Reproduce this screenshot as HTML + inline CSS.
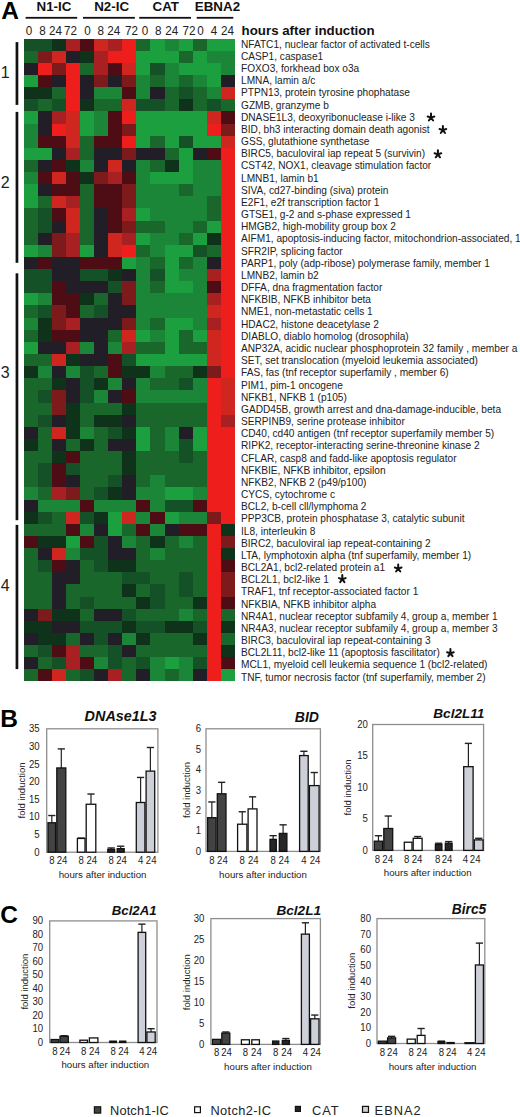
<!DOCTYPE html>
<html><head><meta charset="utf-8"><title>Figure</title>
<style>
html,body{margin:0;padding:0;background:#fff;}
body{width:520px;height:1117px;position:relative;overflow:hidden;font-family:"Liberation Sans", sans-serif;}
</style></head><body>
<svg width="520" height="1117" viewBox="0 0 520 1117" style="position:absolute;left:0;top:0;font-family:'Liberation Sans', sans-serif">
<text x="1.2" y="18.9" font-size="24.5" font-weight="bold" fill="#000">A</text>
<text transform="translate(36.5,10.5) scale(1.07,1)" font-size="12.5" font-weight="bold" fill="#111">N1-IC</text>
<rect x="25.6" y="16.9" width="51.6" height="1.8" fill="#111"/>
<text transform="translate(94.2,10.5) scale(1.07,1)" font-size="12.5" font-weight="bold" fill="#111">N2-IC</text>
<rect x="83.0" y="16.9" width="51.9" height="1.8" fill="#111"/>
<text transform="translate(152.5,10.5) scale(1.07,1)" font-size="12.5" font-weight="bold" fill="#111">CAT</text>
<rect x="139.2" y="16.9" width="51.8" height="1.8" fill="#111"/>
<text transform="translate(194.8,10.5) scale(1.07,1)" font-size="12.5" font-weight="bold" fill="#111">EBNA2</text>
<rect x="196.7" y="16.9" width="36.6" height="1.8" fill="#111"/>
<text transform="translate(29.0,34.9) scale(1,1.09)" font-size="11.7" text-anchor="middle" fill="#222">0</text>
<text transform="translate(42.4,34.9) scale(1,1.09)" font-size="11.7" text-anchor="middle" fill="#222">8</text>
<text transform="translate(55.4,34.9) scale(1,1.09)" font-size="11.7" text-anchor="middle" fill="#222">24</text>
<text transform="translate(70.5,34.9) scale(1,1.09)" font-size="11.7" text-anchor="middle" fill="#222">72</text>
<text transform="translate(87.5,34.9) scale(1,1.09)" font-size="11.7" text-anchor="middle" fill="#222">0</text>
<text transform="translate(100.7,34.9) scale(1,1.09)" font-size="11.7" text-anchor="middle" fill="#222">8</text>
<text transform="translate(113.7,34.9) scale(1,1.09)" font-size="11.7" text-anchor="middle" fill="#222">24</text>
<text transform="translate(131.6,34.9) scale(1,1.09)" font-size="11.7" text-anchor="middle" fill="#222">72</text>
<text transform="translate(144.9,34.9) scale(1,1.09)" font-size="11.7" text-anchor="middle" fill="#222">0</text>
<text transform="translate(158.2,34.9) scale(1,1.09)" font-size="11.7" text-anchor="middle" fill="#222">8</text>
<text transform="translate(171.8,34.9) scale(1,1.09)" font-size="11.7" text-anchor="middle" fill="#222">24</text>
<text transform="translate(189.0,34.9) scale(1,1.09)" font-size="11.7" text-anchor="middle" fill="#222">72</text>
<text transform="translate(200.4,34.9) scale(1,1.09)" font-size="11.7" text-anchor="middle" fill="#222">0</text>
<text transform="translate(214.0,34.9) scale(1,1.09)" font-size="11.7" text-anchor="middle" fill="#222">4</text>
<text transform="translate(227.5,34.9) scale(1,1.09)" font-size="11.7" text-anchor="middle" fill="#222">24</text>
<text x="241.6" y="35.4" font-size="13.3" font-weight="bold" fill="#111">hours after induction</text>
<g shape-rendering="crispEdges">
<rect x="23.50" y="38.60" width="14.70" height="12.73" fill="#155126"/>
<rect x="37.60" y="38.60" width="14.70" height="12.73" fill="#155126"/>
<rect x="51.70" y="38.60" width="14.70" height="12.73" fill="#0e331a"/>
<rect x="65.80" y="38.60" width="14.70" height="12.73" fill="#a82022"/>
<rect x="79.90" y="38.60" width="14.70" height="12.73" fill="#4e0d14"/>
<rect x="94.00" y="38.60" width="14.70" height="12.73" fill="#cf2620"/>
<rect x="108.10" y="38.60" width="14.70" height="12.73" fill="#a82022"/>
<rect x="122.20" y="38.60" width="14.70" height="12.73" fill="#ee1e1c"/>
<rect x="136.30" y="38.60" width="14.70" height="12.73" fill="#1a672b"/>
<rect x="150.40" y="38.60" width="14.70" height="12.73" fill="#1c9f3e"/>
<rect x="164.50" y="38.60" width="14.70" height="12.73" fill="#1b8637"/>
<rect x="178.60" y="38.60" width="14.70" height="12.73" fill="#1c9f3e"/>
<rect x="192.70" y="38.60" width="14.70" height="12.73" fill="#1a672b"/>
<rect x="206.80" y="38.60" width="14.70" height="12.73" fill="#1c9f3e"/>
<rect x="220.90" y="38.60" width="14.10" height="12.73" fill="#1c9f3e"/>
<rect x="23.50" y="50.73" width="14.70" height="12.73" fill="#1a672b"/>
<rect x="37.60" y="50.73" width="14.70" height="12.73" fill="#7c1a1c"/>
<rect x="51.70" y="50.73" width="14.70" height="12.73" fill="#cf2620"/>
<rect x="65.80" y="50.73" width="14.70" height="12.73" fill="#221e27"/>
<rect x="79.90" y="50.73" width="14.70" height="12.73" fill="#0e331a"/>
<rect x="94.00" y="50.73" width="14.70" height="12.73" fill="#a82022"/>
<rect x="108.10" y="50.73" width="14.70" height="12.73" fill="#ee1e1c"/>
<rect x="122.20" y="50.73" width="14.70" height="12.73" fill="#ee1e1c"/>
<rect x="136.30" y="50.73" width="14.70" height="12.73" fill="#1c9f3e"/>
<rect x="150.40" y="50.73" width="14.70" height="12.73" fill="#1c9f3e"/>
<rect x="164.50" y="50.73" width="14.70" height="12.73" fill="#1c9f3e"/>
<rect x="178.60" y="50.73" width="14.70" height="12.73" fill="#1a672b"/>
<rect x="192.70" y="50.73" width="14.70" height="12.73" fill="#1c9f3e"/>
<rect x="206.80" y="50.73" width="14.70" height="12.73" fill="#1b8637"/>
<rect x="220.90" y="50.73" width="14.10" height="12.73" fill="#1b8637"/>
<rect x="23.50" y="62.86" width="14.70" height="12.73" fill="#221e27"/>
<rect x="37.60" y="62.86" width="14.70" height="12.73" fill="#ee1e1c"/>
<rect x="51.70" y="62.86" width="14.70" height="12.73" fill="#7c1a1c"/>
<rect x="65.80" y="62.86" width="14.70" height="12.73" fill="#ee1e1c"/>
<rect x="79.90" y="62.86" width="14.70" height="12.73" fill="#1a672b"/>
<rect x="94.00" y="62.86" width="14.70" height="12.73" fill="#a82022"/>
<rect x="108.10" y="62.86" width="14.70" height="12.73" fill="#4e0d14"/>
<rect x="122.20" y="62.86" width="14.70" height="12.73" fill="#cf2620"/>
<rect x="136.30" y="62.86" width="14.70" height="12.73" fill="#1c9f3e"/>
<rect x="150.40" y="62.86" width="14.70" height="12.73" fill="#155126"/>
<rect x="164.50" y="62.86" width="14.70" height="12.73" fill="#1b8637"/>
<rect x="178.60" y="62.86" width="14.70" height="12.73" fill="#1c9f3e"/>
<rect x="192.70" y="62.86" width="14.70" height="12.73" fill="#1c9f3e"/>
<rect x="206.80" y="62.86" width="14.70" height="12.73" fill="#1c9f3e"/>
<rect x="220.90" y="62.86" width="14.10" height="12.73" fill="#1b8637"/>
<rect x="23.50" y="74.99" width="14.70" height="12.73" fill="#1c9f3e"/>
<rect x="37.60" y="74.99" width="14.70" height="12.73" fill="#4e0d14"/>
<rect x="51.70" y="74.99" width="14.70" height="12.73" fill="#221e27"/>
<rect x="65.80" y="74.99" width="14.70" height="12.73" fill="#ee1e1c"/>
<rect x="79.90" y="74.99" width="14.70" height="12.73" fill="#221e27"/>
<rect x="94.00" y="74.99" width="14.70" height="12.73" fill="#7c1a1c"/>
<rect x="108.10" y="74.99" width="14.70" height="12.73" fill="#221e27"/>
<rect x="122.20" y="74.99" width="14.70" height="12.73" fill="#7c1a1c"/>
<rect x="136.30" y="74.99" width="14.70" height="12.73" fill="#1b8637"/>
<rect x="150.40" y="74.99" width="14.70" height="12.73" fill="#1a672b"/>
<rect x="164.50" y="74.99" width="14.70" height="12.73" fill="#1b8637"/>
<rect x="178.60" y="74.99" width="14.70" height="12.73" fill="#1a672b"/>
<rect x="192.70" y="74.99" width="14.70" height="12.73" fill="#1b8637"/>
<rect x="206.80" y="74.99" width="14.70" height="12.73" fill="#1c9f3e"/>
<rect x="220.90" y="74.99" width="14.10" height="12.73" fill="#221e27"/>
<rect x="23.50" y="87.12" width="14.70" height="12.73" fill="#0e331a"/>
<rect x="37.60" y="87.12" width="14.70" height="12.73" fill="#0e331a"/>
<rect x="51.70" y="87.12" width="14.70" height="12.73" fill="#1a672b"/>
<rect x="65.80" y="87.12" width="14.70" height="12.73" fill="#ee1e1c"/>
<rect x="79.90" y="87.12" width="14.70" height="12.73" fill="#221e27"/>
<rect x="94.00" y="87.12" width="14.70" height="12.73" fill="#1b8637"/>
<rect x="108.10" y="87.12" width="14.70" height="12.73" fill="#1b8637"/>
<rect x="122.20" y="87.12" width="14.70" height="12.73" fill="#4e0d14"/>
<rect x="136.30" y="87.12" width="14.70" height="12.73" fill="#1b8637"/>
<rect x="150.40" y="87.12" width="14.70" height="12.73" fill="#221e27"/>
<rect x="164.50" y="87.12" width="14.70" height="12.73" fill="#1a672b"/>
<rect x="178.60" y="87.12" width="14.70" height="12.73" fill="#155126"/>
<rect x="192.70" y="87.12" width="14.70" height="12.73" fill="#1a672b"/>
<rect x="206.80" y="87.12" width="14.70" height="12.73" fill="#1b8637"/>
<rect x="220.90" y="87.12" width="14.10" height="12.73" fill="#cf2620"/>
<rect x="23.50" y="99.25" width="14.70" height="12.73" fill="#155126"/>
<rect x="37.60" y="99.25" width="14.70" height="12.73" fill="#1a672b"/>
<rect x="51.70" y="99.25" width="14.70" height="12.73" fill="#155126"/>
<rect x="65.80" y="99.25" width="14.70" height="12.73" fill="#ee1e1c"/>
<rect x="79.90" y="99.25" width="14.70" height="12.73" fill="#0e331a"/>
<rect x="94.00" y="99.25" width="14.70" height="12.73" fill="#1a672b"/>
<rect x="108.10" y="99.25" width="14.70" height="12.73" fill="#1a672b"/>
<rect x="122.20" y="99.25" width="14.70" height="12.73" fill="#cf2620"/>
<rect x="136.30" y="99.25" width="14.70" height="12.73" fill="#155126"/>
<rect x="150.40" y="99.25" width="14.70" height="12.73" fill="#155126"/>
<rect x="164.50" y="99.25" width="14.70" height="12.73" fill="#1a672b"/>
<rect x="178.60" y="99.25" width="14.70" height="12.73" fill="#0e331a"/>
<rect x="192.70" y="99.25" width="14.70" height="12.73" fill="#1a672b"/>
<rect x="206.80" y="99.25" width="14.70" height="12.73" fill="#155126"/>
<rect x="220.90" y="99.25" width="14.10" height="12.73" fill="#1a672b"/>
<rect x="23.50" y="111.38" width="14.70" height="12.73" fill="#1c9f3e"/>
<rect x="37.60" y="111.38" width="14.70" height="12.73" fill="#221e27"/>
<rect x="51.70" y="111.38" width="14.70" height="12.73" fill="#a82022"/>
<rect x="65.80" y="111.38" width="14.70" height="12.73" fill="#cf2620"/>
<rect x="79.90" y="111.38" width="14.70" height="12.73" fill="#1c9f3e"/>
<rect x="94.00" y="111.38" width="14.70" height="12.73" fill="#1b8637"/>
<rect x="108.10" y="111.38" width="14.70" height="12.73" fill="#4e0d14"/>
<rect x="122.20" y="111.38" width="14.70" height="12.73" fill="#ee1e1c"/>
<rect x="136.30" y="111.38" width="14.70" height="12.73" fill="#1c9f3e"/>
<rect x="150.40" y="111.38" width="14.70" height="12.73" fill="#1c9f3e"/>
<rect x="164.50" y="111.38" width="14.70" height="12.73" fill="#1c9f3e"/>
<rect x="178.60" y="111.38" width="14.70" height="12.73" fill="#1c9f3e"/>
<rect x="192.70" y="111.38" width="14.70" height="12.73" fill="#1c9f3e"/>
<rect x="206.80" y="111.38" width="14.70" height="12.73" fill="#cf2620"/>
<rect x="220.90" y="111.38" width="14.10" height="12.73" fill="#4e0d14"/>
<rect x="23.50" y="123.51" width="14.70" height="12.73" fill="#1b8637"/>
<rect x="37.60" y="123.51" width="14.70" height="12.73" fill="#221e27"/>
<rect x="51.70" y="123.51" width="14.70" height="12.73" fill="#ee1e1c"/>
<rect x="65.80" y="123.51" width="14.70" height="12.73" fill="#cf2620"/>
<rect x="79.90" y="123.51" width="14.70" height="12.73" fill="#1c9f3e"/>
<rect x="94.00" y="123.51" width="14.70" height="12.73" fill="#1b8637"/>
<rect x="108.10" y="123.51" width="14.70" height="12.73" fill="#4e0d14"/>
<rect x="122.20" y="123.51" width="14.70" height="12.73" fill="#7c1a1c"/>
<rect x="136.30" y="123.51" width="14.70" height="12.73" fill="#1c9f3e"/>
<rect x="150.40" y="123.51" width="14.70" height="12.73" fill="#1c9f3e"/>
<rect x="164.50" y="123.51" width="14.70" height="12.73" fill="#1c9f3e"/>
<rect x="178.60" y="123.51" width="14.70" height="12.73" fill="#1c9f3e"/>
<rect x="192.70" y="123.51" width="14.70" height="12.73" fill="#1c9f3e"/>
<rect x="206.80" y="123.51" width="14.70" height="12.73" fill="#ee1e1c"/>
<rect x="220.90" y="123.51" width="14.10" height="12.73" fill="#7c1a1c"/>
<rect x="23.50" y="135.64" width="14.70" height="12.73" fill="#1b8637"/>
<rect x="37.60" y="135.64" width="14.70" height="12.73" fill="#4e0d14"/>
<rect x="51.70" y="135.64" width="14.70" height="12.73" fill="#4e0d14"/>
<rect x="65.80" y="135.64" width="14.70" height="12.73" fill="#cf2620"/>
<rect x="79.90" y="135.64" width="14.70" height="12.73" fill="#1a672b"/>
<rect x="94.00" y="135.64" width="14.70" height="12.73" fill="#4e0d14"/>
<rect x="108.10" y="135.64" width="14.70" height="12.73" fill="#4e0d14"/>
<rect x="122.20" y="135.64" width="14.70" height="12.73" fill="#ee1e1c"/>
<rect x="136.30" y="135.64" width="14.70" height="12.73" fill="#1c9f3e"/>
<rect x="150.40" y="135.64" width="14.70" height="12.73" fill="#1a672b"/>
<rect x="164.50" y="135.64" width="14.70" height="12.73" fill="#1c9f3e"/>
<rect x="178.60" y="135.64" width="14.70" height="12.73" fill="#155126"/>
<rect x="192.70" y="135.64" width="14.70" height="12.73" fill="#1c9f3e"/>
<rect x="206.80" y="135.64" width="14.70" height="12.73" fill="#1c9f3e"/>
<rect x="220.90" y="135.64" width="14.10" height="12.73" fill="#cf2620"/>
<rect x="23.50" y="147.77" width="14.70" height="12.73" fill="#1c9f3e"/>
<rect x="37.60" y="147.77" width="14.70" height="12.73" fill="#1c9f3e"/>
<rect x="51.70" y="147.77" width="14.70" height="12.73" fill="#221e27"/>
<rect x="65.80" y="147.77" width="14.70" height="12.73" fill="#a82022"/>
<rect x="79.90" y="147.77" width="14.70" height="12.73" fill="#1a672b"/>
<rect x="94.00" y="147.77" width="14.70" height="12.73" fill="#221e27"/>
<rect x="108.10" y="147.77" width="14.70" height="12.73" fill="#221e27"/>
<rect x="122.20" y="147.77" width="14.70" height="12.73" fill="#7c1a1c"/>
<rect x="136.30" y="147.77" width="14.70" height="12.73" fill="#221e27"/>
<rect x="150.40" y="147.77" width="14.70" height="12.73" fill="#221e27"/>
<rect x="164.50" y="147.77" width="14.70" height="12.73" fill="#1a672b"/>
<rect x="178.60" y="147.77" width="14.70" height="12.73" fill="#1c9f3e"/>
<rect x="192.70" y="147.77" width="14.70" height="12.73" fill="#221e27"/>
<rect x="206.80" y="147.77" width="14.70" height="12.73" fill="#4e0d14"/>
<rect x="220.90" y="147.77" width="14.10" height="12.73" fill="#ee1e1c"/>
<rect x="23.50" y="159.90" width="14.70" height="12.73" fill="#1a672b"/>
<rect x="37.60" y="159.90" width="14.70" height="12.73" fill="#221e27"/>
<rect x="51.70" y="159.90" width="14.70" height="12.73" fill="#4e0d14"/>
<rect x="65.80" y="159.90" width="14.70" height="12.73" fill="#0e331a"/>
<rect x="79.90" y="159.90" width="14.70" height="12.73" fill="#1b8637"/>
<rect x="94.00" y="159.90" width="14.70" height="12.73" fill="#221e27"/>
<rect x="108.10" y="159.90" width="14.70" height="12.73" fill="#cf2620"/>
<rect x="122.20" y="159.90" width="14.70" height="12.73" fill="#221e27"/>
<rect x="136.30" y="159.90" width="14.70" height="12.73" fill="#1b8637"/>
<rect x="150.40" y="159.90" width="14.70" height="12.73" fill="#1a672b"/>
<rect x="164.50" y="159.90" width="14.70" height="12.73" fill="#0e331a"/>
<rect x="178.60" y="159.90" width="14.70" height="12.73" fill="#1c9f3e"/>
<rect x="192.70" y="159.90" width="14.70" height="12.73" fill="#1b8637"/>
<rect x="206.80" y="159.90" width="14.70" height="12.73" fill="#1b8637"/>
<rect x="220.90" y="159.90" width="14.10" height="12.73" fill="#ee1e1c"/>
<rect x="23.50" y="172.03" width="14.70" height="12.73" fill="#1b8637"/>
<rect x="37.60" y="172.03" width="14.70" height="12.73" fill="#4e0d14"/>
<rect x="51.70" y="172.03" width="14.70" height="12.73" fill="#cf2620"/>
<rect x="65.80" y="172.03" width="14.70" height="12.73" fill="#4e0d14"/>
<rect x="79.90" y="172.03" width="14.70" height="12.73" fill="#0e331a"/>
<rect x="94.00" y="172.03" width="14.70" height="12.73" fill="#7c1a1c"/>
<rect x="108.10" y="172.03" width="14.70" height="12.73" fill="#a82022"/>
<rect x="122.20" y="172.03" width="14.70" height="12.73" fill="#4e0d14"/>
<rect x="136.30" y="172.03" width="14.70" height="12.73" fill="#1b8637"/>
<rect x="150.40" y="172.03" width="14.70" height="12.73" fill="#1c9f3e"/>
<rect x="164.50" y="172.03" width="14.70" height="12.73" fill="#1c9f3e"/>
<rect x="178.60" y="172.03" width="14.70" height="12.73" fill="#1c9f3e"/>
<rect x="192.70" y="172.03" width="14.70" height="12.73" fill="#1b8637"/>
<rect x="206.80" y="172.03" width="14.70" height="12.73" fill="#1b8637"/>
<rect x="220.90" y="172.03" width="14.10" height="12.73" fill="#ee1e1c"/>
<rect x="23.50" y="184.16" width="14.70" height="12.73" fill="#1c9f3e"/>
<rect x="37.60" y="184.16" width="14.70" height="12.73" fill="#221e27"/>
<rect x="51.70" y="184.16" width="14.70" height="12.73" fill="#4e0d14"/>
<rect x="65.80" y="184.16" width="14.70" height="12.73" fill="#4e0d14"/>
<rect x="79.90" y="184.16" width="14.70" height="12.73" fill="#1a672b"/>
<rect x="94.00" y="184.16" width="14.70" height="12.73" fill="#4e0d14"/>
<rect x="108.10" y="184.16" width="14.70" height="12.73" fill="#4e0d14"/>
<rect x="122.20" y="184.16" width="14.70" height="12.73" fill="#7c1a1c"/>
<rect x="136.30" y="184.16" width="14.70" height="12.73" fill="#1b8637"/>
<rect x="150.40" y="184.16" width="14.70" height="12.73" fill="#1b8637"/>
<rect x="164.50" y="184.16" width="14.70" height="12.73" fill="#1b8637"/>
<rect x="178.60" y="184.16" width="14.70" height="12.73" fill="#1a672b"/>
<rect x="192.70" y="184.16" width="14.70" height="12.73" fill="#1b8637"/>
<rect x="206.80" y="184.16" width="14.70" height="12.73" fill="#1b8637"/>
<rect x="220.90" y="184.16" width="14.10" height="12.73" fill="#ee1e1c"/>
<rect x="23.50" y="196.29" width="14.70" height="12.73" fill="#1c9f3e"/>
<rect x="37.60" y="196.29" width="14.70" height="12.73" fill="#1a672b"/>
<rect x="51.70" y="196.29" width="14.70" height="12.73" fill="#cf2620"/>
<rect x="65.80" y="196.29" width="14.70" height="12.73" fill="#a82022"/>
<rect x="79.90" y="196.29" width="14.70" height="12.73" fill="#1a672b"/>
<rect x="94.00" y="196.29" width="14.70" height="12.73" fill="#4e0d14"/>
<rect x="108.10" y="196.29" width="14.70" height="12.73" fill="#4e0d14"/>
<rect x="122.20" y="196.29" width="14.70" height="12.73" fill="#7c1a1c"/>
<rect x="136.30" y="196.29" width="14.70" height="12.73" fill="#1b8637"/>
<rect x="150.40" y="196.29" width="14.70" height="12.73" fill="#1b8637"/>
<rect x="164.50" y="196.29" width="14.70" height="12.73" fill="#1b8637"/>
<rect x="178.60" y="196.29" width="14.70" height="12.73" fill="#1b8637"/>
<rect x="192.70" y="196.29" width="14.70" height="12.73" fill="#1b8637"/>
<rect x="206.80" y="196.29" width="14.70" height="12.73" fill="#1a672b"/>
<rect x="220.90" y="196.29" width="14.10" height="12.73" fill="#ee1e1c"/>
<rect x="23.50" y="208.42" width="14.70" height="12.73" fill="#1a672b"/>
<rect x="37.60" y="208.42" width="14.70" height="12.73" fill="#155126"/>
<rect x="51.70" y="208.42" width="14.70" height="12.73" fill="#4e0d14"/>
<rect x="65.80" y="208.42" width="14.70" height="12.73" fill="#cf2620"/>
<rect x="79.90" y="208.42" width="14.70" height="12.73" fill="#1a672b"/>
<rect x="94.00" y="208.42" width="14.70" height="12.73" fill="#221e27"/>
<rect x="108.10" y="208.42" width="14.70" height="12.73" fill="#4e0d14"/>
<rect x="122.20" y="208.42" width="14.70" height="12.73" fill="#a82022"/>
<rect x="136.30" y="208.42" width="14.70" height="12.73" fill="#1c9f3e"/>
<rect x="150.40" y="208.42" width="14.70" height="12.73" fill="#1b8637"/>
<rect x="164.50" y="208.42" width="14.70" height="12.73" fill="#1b8637"/>
<rect x="178.60" y="208.42" width="14.70" height="12.73" fill="#1b8637"/>
<rect x="192.70" y="208.42" width="14.70" height="12.73" fill="#1b8637"/>
<rect x="206.80" y="208.42" width="14.70" height="12.73" fill="#1a672b"/>
<rect x="220.90" y="208.42" width="14.10" height="12.73" fill="#ee1e1c"/>
<rect x="23.50" y="220.55" width="14.70" height="12.73" fill="#1a672b"/>
<rect x="37.60" y="220.55" width="14.70" height="12.73" fill="#155126"/>
<rect x="51.70" y="220.55" width="14.70" height="12.73" fill="#221e27"/>
<rect x="65.80" y="220.55" width="14.70" height="12.73" fill="#cf2620"/>
<rect x="79.90" y="220.55" width="14.70" height="12.73" fill="#1a672b"/>
<rect x="94.00" y="220.55" width="14.70" height="12.73" fill="#221e27"/>
<rect x="108.10" y="220.55" width="14.70" height="12.73" fill="#4e0d14"/>
<rect x="122.20" y="220.55" width="14.70" height="12.73" fill="#7c1a1c"/>
<rect x="136.30" y="220.55" width="14.70" height="12.73" fill="#1a672b"/>
<rect x="150.40" y="220.55" width="14.70" height="12.73" fill="#1a672b"/>
<rect x="164.50" y="220.55" width="14.70" height="12.73" fill="#1b8637"/>
<rect x="178.60" y="220.55" width="14.70" height="12.73" fill="#1b8637"/>
<rect x="192.70" y="220.55" width="14.70" height="12.73" fill="#1a672b"/>
<rect x="206.80" y="220.55" width="14.70" height="12.73" fill="#1c9f3e"/>
<rect x="220.90" y="220.55" width="14.10" height="12.73" fill="#ee1e1c"/>
<rect x="23.50" y="232.68" width="14.70" height="12.73" fill="#1a672b"/>
<rect x="37.60" y="232.68" width="14.70" height="12.73" fill="#221e27"/>
<rect x="51.70" y="232.68" width="14.70" height="12.73" fill="#7c1a1c"/>
<rect x="65.80" y="232.68" width="14.70" height="12.73" fill="#a82022"/>
<rect x="79.90" y="232.68" width="14.70" height="12.73" fill="#1a672b"/>
<rect x="94.00" y="232.68" width="14.70" height="12.73" fill="#221e27"/>
<rect x="108.10" y="232.68" width="14.70" height="12.73" fill="#cf2620"/>
<rect x="122.20" y="232.68" width="14.70" height="12.73" fill="#a82022"/>
<rect x="136.30" y="232.68" width="14.70" height="12.73" fill="#1c9f3e"/>
<rect x="150.40" y="232.68" width="14.70" height="12.73" fill="#1b8637"/>
<rect x="164.50" y="232.68" width="14.70" height="12.73" fill="#1b8637"/>
<rect x="178.60" y="232.68" width="14.70" height="12.73" fill="#1a672b"/>
<rect x="192.70" y="232.68" width="14.70" height="12.73" fill="#1c9f3e"/>
<rect x="206.80" y="232.68" width="14.70" height="12.73" fill="#0e331a"/>
<rect x="220.90" y="232.68" width="14.10" height="12.73" fill="#ee1e1c"/>
<rect x="23.50" y="244.81" width="14.70" height="12.73" fill="#1c9f3e"/>
<rect x="37.60" y="244.81" width="14.70" height="12.73" fill="#1b8637"/>
<rect x="51.70" y="244.81" width="14.70" height="12.73" fill="#7c1a1c"/>
<rect x="65.80" y="244.81" width="14.70" height="12.73" fill="#a82022"/>
<rect x="79.90" y="244.81" width="14.70" height="12.73" fill="#1c9f3e"/>
<rect x="94.00" y="244.81" width="14.70" height="12.73" fill="#221e27"/>
<rect x="108.10" y="244.81" width="14.70" height="12.73" fill="#cf2620"/>
<rect x="122.20" y="244.81" width="14.70" height="12.73" fill="#ee1e1c"/>
<rect x="136.30" y="244.81" width="14.70" height="12.73" fill="#1a672b"/>
<rect x="150.40" y="244.81" width="14.70" height="12.73" fill="#1b8637"/>
<rect x="164.50" y="244.81" width="14.70" height="12.73" fill="#1c9f3e"/>
<rect x="178.60" y="244.81" width="14.70" height="12.73" fill="#1c9f3e"/>
<rect x="192.70" y="244.81" width="14.70" height="12.73" fill="#155126"/>
<rect x="206.80" y="244.81" width="14.70" height="12.73" fill="#1a672b"/>
<rect x="220.90" y="244.81" width="14.10" height="12.73" fill="#ee1e1c"/>
<rect x="23.50" y="256.94" width="14.70" height="12.73" fill="#221e27"/>
<rect x="37.60" y="256.94" width="14.70" height="12.73" fill="#4e0d14"/>
<rect x="51.70" y="256.94" width="14.70" height="12.73" fill="#221e27"/>
<rect x="65.80" y="256.94" width="14.70" height="12.73" fill="#221e27"/>
<rect x="79.90" y="256.94" width="14.70" height="12.73" fill="#4e0d14"/>
<rect x="94.00" y="256.94" width="14.70" height="12.73" fill="#4e0d14"/>
<rect x="108.10" y="256.94" width="14.70" height="12.73" fill="#4e0d14"/>
<rect x="122.20" y="256.94" width="14.70" height="12.73" fill="#1c9f3e"/>
<rect x="136.30" y="256.94" width="14.70" height="12.73" fill="#1b8637"/>
<rect x="150.40" y="256.94" width="14.70" height="12.73" fill="#1a672b"/>
<rect x="164.50" y="256.94" width="14.70" height="12.73" fill="#1c9f3e"/>
<rect x="178.60" y="256.94" width="14.70" height="12.73" fill="#1a672b"/>
<rect x="192.70" y="256.94" width="14.70" height="12.73" fill="#1b8637"/>
<rect x="206.80" y="256.94" width="14.70" height="12.73" fill="#221e27"/>
<rect x="220.90" y="256.94" width="14.10" height="12.73" fill="#ee1e1c"/>
<rect x="23.50" y="269.07" width="14.70" height="12.73" fill="#155126"/>
<rect x="37.60" y="269.07" width="14.70" height="12.73" fill="#155126"/>
<rect x="51.70" y="269.07" width="14.70" height="12.73" fill="#221e27"/>
<rect x="65.80" y="269.07" width="14.70" height="12.73" fill="#221e27"/>
<rect x="79.90" y="269.07" width="14.70" height="12.73" fill="#155126"/>
<rect x="94.00" y="269.07" width="14.70" height="12.73" fill="#155126"/>
<rect x="108.10" y="269.07" width="14.70" height="12.73" fill="#0e331a"/>
<rect x="122.20" y="269.07" width="14.70" height="12.73" fill="#221e27"/>
<rect x="136.30" y="269.07" width="14.70" height="12.73" fill="#1b8637"/>
<rect x="150.40" y="269.07" width="14.70" height="12.73" fill="#155126"/>
<rect x="164.50" y="269.07" width="14.70" height="12.73" fill="#1c9f3e"/>
<rect x="178.60" y="269.07" width="14.70" height="12.73" fill="#1b8637"/>
<rect x="192.70" y="269.07" width="14.70" height="12.73" fill="#1b8637"/>
<rect x="206.80" y="269.07" width="14.70" height="12.73" fill="#a82022"/>
<rect x="220.90" y="269.07" width="14.10" height="12.73" fill="#ee1e1c"/>
<rect x="23.50" y="281.20" width="14.70" height="12.73" fill="#155126"/>
<rect x="37.60" y="281.20" width="14.70" height="12.73" fill="#155126"/>
<rect x="51.70" y="281.20" width="14.70" height="12.73" fill="#4e0d14"/>
<rect x="65.80" y="281.20" width="14.70" height="12.73" fill="#221e27"/>
<rect x="79.90" y="281.20" width="14.70" height="12.73" fill="#221e27"/>
<rect x="94.00" y="281.20" width="14.70" height="12.73" fill="#221e27"/>
<rect x="108.10" y="281.20" width="14.70" height="12.73" fill="#155126"/>
<rect x="122.20" y="281.20" width="14.70" height="12.73" fill="#7c1a1c"/>
<rect x="136.30" y="281.20" width="14.70" height="12.73" fill="#1b8637"/>
<rect x="150.40" y="281.20" width="14.70" height="12.73" fill="#1a672b"/>
<rect x="164.50" y="281.20" width="14.70" height="12.73" fill="#1c9f3e"/>
<rect x="178.60" y="281.20" width="14.70" height="12.73" fill="#1c9f3e"/>
<rect x="192.70" y="281.20" width="14.70" height="12.73" fill="#1b8637"/>
<rect x="206.80" y="281.20" width="14.70" height="12.73" fill="#4e0d14"/>
<rect x="220.90" y="281.20" width="14.10" height="12.73" fill="#ee1e1c"/>
<rect x="23.50" y="293.33" width="14.70" height="12.73" fill="#1c9f3e"/>
<rect x="37.60" y="293.33" width="14.70" height="12.73" fill="#1b8637"/>
<rect x="51.70" y="293.33" width="14.70" height="12.73" fill="#4e0d14"/>
<rect x="65.80" y="293.33" width="14.70" height="12.73" fill="#4e0d14"/>
<rect x="79.90" y="293.33" width="14.70" height="12.73" fill="#0e331a"/>
<rect x="94.00" y="293.33" width="14.70" height="12.73" fill="#1a672b"/>
<rect x="108.10" y="293.33" width="14.70" height="12.73" fill="#221e27"/>
<rect x="122.20" y="293.33" width="14.70" height="12.73" fill="#7c1a1c"/>
<rect x="136.30" y="293.33" width="14.70" height="12.73" fill="#1b8637"/>
<rect x="150.40" y="293.33" width="14.70" height="12.73" fill="#1b8637"/>
<rect x="164.50" y="293.33" width="14.70" height="12.73" fill="#1b8637"/>
<rect x="178.60" y="293.33" width="14.70" height="12.73" fill="#1b8637"/>
<rect x="192.70" y="293.33" width="14.70" height="12.73" fill="#1b8637"/>
<rect x="206.80" y="293.33" width="14.70" height="12.73" fill="#a82022"/>
<rect x="220.90" y="293.33" width="14.10" height="12.73" fill="#ee1e1c"/>
<rect x="23.50" y="305.46" width="14.70" height="12.73" fill="#1a672b"/>
<rect x="37.60" y="305.46" width="14.70" height="12.73" fill="#155126"/>
<rect x="51.70" y="305.46" width="14.70" height="12.73" fill="#7c1a1c"/>
<rect x="65.80" y="305.46" width="14.70" height="12.73" fill="#4e0d14"/>
<rect x="79.90" y="305.46" width="14.70" height="12.73" fill="#1a672b"/>
<rect x="94.00" y="305.46" width="14.70" height="12.73" fill="#155126"/>
<rect x="108.10" y="305.46" width="14.70" height="12.73" fill="#221e27"/>
<rect x="122.20" y="305.46" width="14.70" height="12.73" fill="#221e27"/>
<rect x="136.30" y="305.46" width="14.70" height="12.73" fill="#1b8637"/>
<rect x="150.40" y="305.46" width="14.70" height="12.73" fill="#1b8637"/>
<rect x="164.50" y="305.46" width="14.70" height="12.73" fill="#1b8637"/>
<rect x="178.60" y="305.46" width="14.70" height="12.73" fill="#1b8637"/>
<rect x="192.70" y="305.46" width="14.70" height="12.73" fill="#1b8637"/>
<rect x="206.80" y="305.46" width="14.70" height="12.73" fill="#cf2620"/>
<rect x="220.90" y="305.46" width="14.10" height="12.73" fill="#ee1e1c"/>
<rect x="23.50" y="317.59" width="14.70" height="12.73" fill="#1b8637"/>
<rect x="37.60" y="317.59" width="14.70" height="12.73" fill="#0e331a"/>
<rect x="51.70" y="317.59" width="14.70" height="12.73" fill="#7c1a1c"/>
<rect x="65.80" y="317.59" width="14.70" height="12.73" fill="#a82022"/>
<rect x="79.90" y="317.59" width="14.70" height="12.73" fill="#221e27"/>
<rect x="94.00" y="317.59" width="14.70" height="12.73" fill="#221e27"/>
<rect x="108.10" y="317.59" width="14.70" height="12.73" fill="#221e27"/>
<rect x="122.20" y="317.59" width="14.70" height="12.73" fill="#7c1a1c"/>
<rect x="136.30" y="317.59" width="14.70" height="12.73" fill="#1b8637"/>
<rect x="150.40" y="317.59" width="14.70" height="12.73" fill="#1a672b"/>
<rect x="164.50" y="317.59" width="14.70" height="12.73" fill="#1c9f3e"/>
<rect x="178.60" y="317.59" width="14.70" height="12.73" fill="#1c9f3e"/>
<rect x="192.70" y="317.59" width="14.70" height="12.73" fill="#1b8637"/>
<rect x="206.80" y="317.59" width="14.70" height="12.73" fill="#a82022"/>
<rect x="220.90" y="317.59" width="14.10" height="12.73" fill="#ee1e1c"/>
<rect x="23.50" y="329.72" width="14.70" height="12.73" fill="#1a672b"/>
<rect x="37.60" y="329.72" width="14.70" height="12.73" fill="#0e331a"/>
<rect x="51.70" y="329.72" width="14.70" height="12.73" fill="#4e0d14"/>
<rect x="65.80" y="329.72" width="14.70" height="12.73" fill="#4e0d14"/>
<rect x="79.90" y="329.72" width="14.70" height="12.73" fill="#221e27"/>
<rect x="94.00" y="329.72" width="14.70" height="12.73" fill="#221e27"/>
<rect x="108.10" y="329.72" width="14.70" height="12.73" fill="#1a672b"/>
<rect x="122.20" y="329.72" width="14.70" height="12.73" fill="#cf2620"/>
<rect x="136.30" y="329.72" width="14.70" height="12.73" fill="#1c9f3e"/>
<rect x="150.40" y="329.72" width="14.70" height="12.73" fill="#1b8637"/>
<rect x="164.50" y="329.72" width="14.70" height="12.73" fill="#1c9f3e"/>
<rect x="178.60" y="329.72" width="14.70" height="12.73" fill="#1a672b"/>
<rect x="192.70" y="329.72" width="14.70" height="12.73" fill="#1c9f3e"/>
<rect x="206.80" y="329.72" width="14.70" height="12.73" fill="#cf2620"/>
<rect x="220.90" y="329.72" width="14.10" height="12.73" fill="#ee1e1c"/>
<rect x="23.50" y="341.85" width="14.70" height="12.73" fill="#1c9f3e"/>
<rect x="37.60" y="341.85" width="14.70" height="12.73" fill="#221e27"/>
<rect x="51.70" y="341.85" width="14.70" height="12.73" fill="#221e27"/>
<rect x="65.80" y="341.85" width="14.70" height="12.73" fill="#a82022"/>
<rect x="79.90" y="341.85" width="14.70" height="12.73" fill="#1b8637"/>
<rect x="94.00" y="341.85" width="14.70" height="12.73" fill="#221e27"/>
<rect x="108.10" y="341.85" width="14.70" height="12.73" fill="#1b8637"/>
<rect x="122.20" y="341.85" width="14.70" height="12.73" fill="#a82022"/>
<rect x="136.30" y="341.85" width="14.70" height="12.73" fill="#1a672b"/>
<rect x="150.40" y="341.85" width="14.70" height="12.73" fill="#1a672b"/>
<rect x="164.50" y="341.85" width="14.70" height="12.73" fill="#1c9f3e"/>
<rect x="178.60" y="341.85" width="14.70" height="12.73" fill="#1a672b"/>
<rect x="192.70" y="341.85" width="14.70" height="12.73" fill="#1a672b"/>
<rect x="206.80" y="341.85" width="14.70" height="12.73" fill="#cf2620"/>
<rect x="220.90" y="341.85" width="14.10" height="12.73" fill="#ee1e1c"/>
<rect x="23.50" y="353.98" width="14.70" height="12.73" fill="#1a672b"/>
<rect x="37.60" y="353.98" width="14.70" height="12.73" fill="#1a672b"/>
<rect x="51.70" y="353.98" width="14.70" height="12.73" fill="#cf2620"/>
<rect x="65.80" y="353.98" width="14.70" height="12.73" fill="#0e331a"/>
<rect x="79.90" y="353.98" width="14.70" height="12.73" fill="#221e27"/>
<rect x="94.00" y="353.98" width="14.70" height="12.73" fill="#221e27"/>
<rect x="108.10" y="353.98" width="14.70" height="12.73" fill="#4e0d14"/>
<rect x="122.20" y="353.98" width="14.70" height="12.73" fill="#155126"/>
<rect x="136.30" y="353.98" width="14.70" height="12.73" fill="#1c9f3e"/>
<rect x="150.40" y="353.98" width="14.70" height="12.73" fill="#1c9f3e"/>
<rect x="164.50" y="353.98" width="14.70" height="12.73" fill="#1c9f3e"/>
<rect x="178.60" y="353.98" width="14.70" height="12.73" fill="#1c9f3e"/>
<rect x="192.70" y="353.98" width="14.70" height="12.73" fill="#1c9f3e"/>
<rect x="206.80" y="353.98" width="14.70" height="12.73" fill="#cf2620"/>
<rect x="220.90" y="353.98" width="14.10" height="12.73" fill="#ee1e1c"/>
<rect x="23.50" y="366.11" width="14.70" height="12.73" fill="#0e331a"/>
<rect x="37.60" y="366.11" width="14.70" height="12.73" fill="#1b8637"/>
<rect x="51.70" y="366.11" width="14.70" height="12.73" fill="#221e27"/>
<rect x="65.80" y="366.11" width="14.70" height="12.73" fill="#1b8637"/>
<rect x="79.90" y="366.11" width="14.70" height="12.73" fill="#155126"/>
<rect x="94.00" y="366.11" width="14.70" height="12.73" fill="#1a672b"/>
<rect x="108.10" y="366.11" width="14.70" height="12.73" fill="#4e0d14"/>
<rect x="122.20" y="366.11" width="14.70" height="12.73" fill="#0e331a"/>
<rect x="136.30" y="366.11" width="14.70" height="12.73" fill="#0e331a"/>
<rect x="150.40" y="366.11" width="14.70" height="12.73" fill="#1b8637"/>
<rect x="164.50" y="366.11" width="14.70" height="12.73" fill="#1a672b"/>
<rect x="178.60" y="366.11" width="14.70" height="12.73" fill="#1a672b"/>
<rect x="192.70" y="366.11" width="14.70" height="12.73" fill="#0e331a"/>
<rect x="206.80" y="366.11" width="14.70" height="12.73" fill="#7c1a1c"/>
<rect x="220.90" y="366.11" width="14.10" height="12.73" fill="#ee1e1c"/>
<rect x="23.50" y="378.24" width="14.70" height="12.73" fill="#1a672b"/>
<rect x="37.60" y="378.24" width="14.70" height="12.73" fill="#1a672b"/>
<rect x="51.70" y="378.24" width="14.70" height="12.73" fill="#0e331a"/>
<rect x="65.80" y="378.24" width="14.70" height="12.73" fill="#221e27"/>
<rect x="79.90" y="378.24" width="14.70" height="12.73" fill="#155126"/>
<rect x="94.00" y="378.24" width="14.70" height="12.73" fill="#0e331a"/>
<rect x="108.10" y="378.24" width="14.70" height="12.73" fill="#1b8637"/>
<rect x="122.20" y="378.24" width="14.70" height="12.73" fill="#221e27"/>
<rect x="136.30" y="378.24" width="14.70" height="12.73" fill="#1b8637"/>
<rect x="150.40" y="378.24" width="14.70" height="12.73" fill="#1a672b"/>
<rect x="164.50" y="378.24" width="14.70" height="12.73" fill="#1a672b"/>
<rect x="178.60" y="378.24" width="14.70" height="12.73" fill="#155126"/>
<rect x="192.70" y="378.24" width="14.70" height="12.73" fill="#1b8637"/>
<rect x="206.80" y="378.24" width="14.70" height="12.73" fill="#ee1e1c"/>
<rect x="220.90" y="378.24" width="14.10" height="12.73" fill="#cf2620"/>
<rect x="23.50" y="390.37" width="14.70" height="12.73" fill="#1a672b"/>
<rect x="37.60" y="390.37" width="14.70" height="12.73" fill="#155126"/>
<rect x="51.70" y="390.37" width="14.70" height="12.73" fill="#7c1a1c"/>
<rect x="65.80" y="390.37" width="14.70" height="12.73" fill="#221e27"/>
<rect x="79.90" y="390.37" width="14.70" height="12.73" fill="#155126"/>
<rect x="94.00" y="390.37" width="14.70" height="12.73" fill="#1b8637"/>
<rect x="108.10" y="390.37" width="14.70" height="12.73" fill="#221e27"/>
<rect x="122.20" y="390.37" width="14.70" height="12.73" fill="#4e0d14"/>
<rect x="136.30" y="390.37" width="14.70" height="12.73" fill="#1b8637"/>
<rect x="150.40" y="390.37" width="14.70" height="12.73" fill="#1b8637"/>
<rect x="164.50" y="390.37" width="14.70" height="12.73" fill="#1b8637"/>
<rect x="178.60" y="390.37" width="14.70" height="12.73" fill="#1b8637"/>
<rect x="192.70" y="390.37" width="14.70" height="12.73" fill="#1b8637"/>
<rect x="206.80" y="390.37" width="14.70" height="12.73" fill="#ee1e1c"/>
<rect x="220.90" y="390.37" width="14.10" height="12.73" fill="#cf2620"/>
<rect x="23.50" y="402.50" width="14.70" height="12.73" fill="#1a672b"/>
<rect x="37.60" y="402.50" width="14.70" height="12.73" fill="#1a672b"/>
<rect x="51.70" y="402.50" width="14.70" height="12.73" fill="#7c1a1c"/>
<rect x="65.80" y="402.50" width="14.70" height="12.73" fill="#0e331a"/>
<rect x="79.90" y="402.50" width="14.70" height="12.73" fill="#1a672b"/>
<rect x="94.00" y="402.50" width="14.70" height="12.73" fill="#1a672b"/>
<rect x="108.10" y="402.50" width="14.70" height="12.73" fill="#1a672b"/>
<rect x="122.20" y="402.50" width="14.70" height="12.73" fill="#0e331a"/>
<rect x="136.30" y="402.50" width="14.70" height="12.73" fill="#1a672b"/>
<rect x="150.40" y="402.50" width="14.70" height="12.73" fill="#1a672b"/>
<rect x="164.50" y="402.50" width="14.70" height="12.73" fill="#1a672b"/>
<rect x="178.60" y="402.50" width="14.70" height="12.73" fill="#1a672b"/>
<rect x="192.70" y="402.50" width="14.70" height="12.73" fill="#1a672b"/>
<rect x="206.80" y="402.50" width="14.70" height="12.73" fill="#ee1e1c"/>
<rect x="220.90" y="402.50" width="14.10" height="12.73" fill="#cf2620"/>
<rect x="23.50" y="414.63" width="14.70" height="12.73" fill="#1a672b"/>
<rect x="37.60" y="414.63" width="14.70" height="12.73" fill="#155126"/>
<rect x="51.70" y="414.63" width="14.70" height="12.73" fill="#221e27"/>
<rect x="65.80" y="414.63" width="14.70" height="12.73" fill="#0e331a"/>
<rect x="79.90" y="414.63" width="14.70" height="12.73" fill="#1a672b"/>
<rect x="94.00" y="414.63" width="14.70" height="12.73" fill="#0e331a"/>
<rect x="108.10" y="414.63" width="14.70" height="12.73" fill="#0e331a"/>
<rect x="122.20" y="414.63" width="14.70" height="12.73" fill="#221e27"/>
<rect x="136.30" y="414.63" width="14.70" height="12.73" fill="#1a672b"/>
<rect x="150.40" y="414.63" width="14.70" height="12.73" fill="#1a672b"/>
<rect x="164.50" y="414.63" width="14.70" height="12.73" fill="#1a672b"/>
<rect x="178.60" y="414.63" width="14.70" height="12.73" fill="#1a672b"/>
<rect x="192.70" y="414.63" width="14.70" height="12.73" fill="#1a672b"/>
<rect x="206.80" y="414.63" width="14.70" height="12.73" fill="#ee1e1c"/>
<rect x="220.90" y="414.63" width="14.10" height="12.73" fill="#a82022"/>
<rect x="23.50" y="426.76" width="14.70" height="12.73" fill="#221e27"/>
<rect x="37.60" y="426.76" width="14.70" height="12.73" fill="#1a672b"/>
<rect x="51.70" y="426.76" width="14.70" height="12.73" fill="#cf2620"/>
<rect x="65.80" y="426.76" width="14.70" height="12.73" fill="#0e331a"/>
<rect x="79.90" y="426.76" width="14.70" height="12.73" fill="#1b8637"/>
<rect x="94.00" y="426.76" width="14.70" height="12.73" fill="#1a672b"/>
<rect x="108.10" y="426.76" width="14.70" height="12.73" fill="#155126"/>
<rect x="122.20" y="426.76" width="14.70" height="12.73" fill="#0e331a"/>
<rect x="136.30" y="426.76" width="14.70" height="12.73" fill="#1c9f3e"/>
<rect x="150.40" y="426.76" width="14.70" height="12.73" fill="#1a672b"/>
<rect x="164.50" y="426.76" width="14.70" height="12.73" fill="#1b8637"/>
<rect x="178.60" y="426.76" width="14.70" height="12.73" fill="#221e27"/>
<rect x="192.70" y="426.76" width="14.70" height="12.73" fill="#1c9f3e"/>
<rect x="206.80" y="426.76" width="14.70" height="12.73" fill="#ee1e1c"/>
<rect x="220.90" y="426.76" width="14.10" height="12.73" fill="#ee1e1c"/>
<rect x="23.50" y="438.89" width="14.70" height="12.73" fill="#0e331a"/>
<rect x="37.60" y="438.89" width="14.70" height="12.73" fill="#1a672b"/>
<rect x="51.70" y="438.89" width="14.70" height="12.73" fill="#221e27"/>
<rect x="65.80" y="438.89" width="14.70" height="12.73" fill="#1a672b"/>
<rect x="79.90" y="438.89" width="14.70" height="12.73" fill="#0e331a"/>
<rect x="94.00" y="438.89" width="14.70" height="12.73" fill="#1a672b"/>
<rect x="108.10" y="438.89" width="14.70" height="12.73" fill="#221e27"/>
<rect x="122.20" y="438.89" width="14.70" height="12.73" fill="#221e27"/>
<rect x="136.30" y="438.89" width="14.70" height="12.73" fill="#1c9f3e"/>
<rect x="150.40" y="438.89" width="14.70" height="12.73" fill="#1a672b"/>
<rect x="164.50" y="438.89" width="14.70" height="12.73" fill="#1b8637"/>
<rect x="178.60" y="438.89" width="14.70" height="12.73" fill="#155126"/>
<rect x="192.70" y="438.89" width="14.70" height="12.73" fill="#1c9f3e"/>
<rect x="206.80" y="438.89" width="14.70" height="12.73" fill="#ee1e1c"/>
<rect x="220.90" y="438.89" width="14.10" height="12.73" fill="#ee1e1c"/>
<rect x="23.50" y="451.02" width="14.70" height="12.73" fill="#1a672b"/>
<rect x="37.60" y="451.02" width="14.70" height="12.73" fill="#1a672b"/>
<rect x="51.70" y="451.02" width="14.70" height="12.73" fill="#0e331a"/>
<rect x="65.80" y="451.02" width="14.70" height="12.73" fill="#4e0d14"/>
<rect x="79.90" y="451.02" width="14.70" height="12.73" fill="#1a672b"/>
<rect x="94.00" y="451.02" width="14.70" height="12.73" fill="#1a672b"/>
<rect x="108.10" y="451.02" width="14.70" height="12.73" fill="#1a672b"/>
<rect x="122.20" y="451.02" width="14.70" height="12.73" fill="#0e331a"/>
<rect x="136.30" y="451.02" width="14.70" height="12.73" fill="#1a672b"/>
<rect x="150.40" y="451.02" width="14.70" height="12.73" fill="#1a672b"/>
<rect x="164.50" y="451.02" width="14.70" height="12.73" fill="#1a672b"/>
<rect x="178.60" y="451.02" width="14.70" height="12.73" fill="#155126"/>
<rect x="192.70" y="451.02" width="14.70" height="12.73" fill="#1a672b"/>
<rect x="206.80" y="451.02" width="14.70" height="12.73" fill="#ee1e1c"/>
<rect x="220.90" y="451.02" width="14.10" height="12.73" fill="#ee1e1c"/>
<rect x="23.50" y="463.15" width="14.70" height="12.73" fill="#1a672b"/>
<rect x="37.60" y="463.15" width="14.70" height="12.73" fill="#155126"/>
<rect x="51.70" y="463.15" width="14.70" height="12.73" fill="#4e0d14"/>
<rect x="65.80" y="463.15" width="14.70" height="12.73" fill="#155126"/>
<rect x="79.90" y="463.15" width="14.70" height="12.73" fill="#1a672b"/>
<rect x="94.00" y="463.15" width="14.70" height="12.73" fill="#1a672b"/>
<rect x="108.10" y="463.15" width="14.70" height="12.73" fill="#1a672b"/>
<rect x="122.20" y="463.15" width="14.70" height="12.73" fill="#0e331a"/>
<rect x="136.30" y="463.15" width="14.70" height="12.73" fill="#1a672b"/>
<rect x="150.40" y="463.15" width="14.70" height="12.73" fill="#1a672b"/>
<rect x="164.50" y="463.15" width="14.70" height="12.73" fill="#1a672b"/>
<rect x="178.60" y="463.15" width="14.70" height="12.73" fill="#1a672b"/>
<rect x="192.70" y="463.15" width="14.70" height="12.73" fill="#1a672b"/>
<rect x="206.80" y="463.15" width="14.70" height="12.73" fill="#ee1e1c"/>
<rect x="220.90" y="463.15" width="14.10" height="12.73" fill="#ee1e1c"/>
<rect x="23.50" y="475.28" width="14.70" height="12.73" fill="#1a672b"/>
<rect x="37.60" y="475.28" width="14.70" height="12.73" fill="#155126"/>
<rect x="51.70" y="475.28" width="14.70" height="12.73" fill="#4e0d14"/>
<rect x="65.80" y="475.28" width="14.70" height="12.73" fill="#221e27"/>
<rect x="79.90" y="475.28" width="14.70" height="12.73" fill="#1a672b"/>
<rect x="94.00" y="475.28" width="14.70" height="12.73" fill="#1a672b"/>
<rect x="108.10" y="475.28" width="14.70" height="12.73" fill="#155126"/>
<rect x="122.20" y="475.28" width="14.70" height="12.73" fill="#221e27"/>
<rect x="136.30" y="475.28" width="14.70" height="12.73" fill="#1a672b"/>
<rect x="150.40" y="475.28" width="14.70" height="12.73" fill="#1b8637"/>
<rect x="164.50" y="475.28" width="14.70" height="12.73" fill="#1a672b"/>
<rect x="178.60" y="475.28" width="14.70" height="12.73" fill="#1a672b"/>
<rect x="192.70" y="475.28" width="14.70" height="12.73" fill="#1a672b"/>
<rect x="206.80" y="475.28" width="14.70" height="12.73" fill="#ee1e1c"/>
<rect x="220.90" y="475.28" width="14.10" height="12.73" fill="#ee1e1c"/>
<rect x="23.50" y="487.41" width="14.70" height="12.73" fill="#1b8637"/>
<rect x="37.60" y="487.41" width="14.70" height="12.73" fill="#1a672b"/>
<rect x="51.70" y="487.41" width="14.70" height="12.73" fill="#a82022"/>
<rect x="65.80" y="487.41" width="14.70" height="12.73" fill="#7c1a1c"/>
<rect x="79.90" y="487.41" width="14.70" height="12.73" fill="#1a672b"/>
<rect x="94.00" y="487.41" width="14.70" height="12.73" fill="#155126"/>
<rect x="108.10" y="487.41" width="14.70" height="12.73" fill="#0e331a"/>
<rect x="122.20" y="487.41" width="14.70" height="12.73" fill="#221e27"/>
<rect x="136.30" y="487.41" width="14.70" height="12.73" fill="#1b8637"/>
<rect x="150.40" y="487.41" width="14.70" height="12.73" fill="#1b8637"/>
<rect x="164.50" y="487.41" width="14.70" height="12.73" fill="#1c9f3e"/>
<rect x="178.60" y="487.41" width="14.70" height="12.73" fill="#1c9f3e"/>
<rect x="192.70" y="487.41" width="14.70" height="12.73" fill="#1b8637"/>
<rect x="206.80" y="487.41" width="14.70" height="12.73" fill="#ee1e1c"/>
<rect x="220.90" y="487.41" width="14.10" height="12.73" fill="#ee1e1c"/>
<rect x="23.50" y="499.54" width="14.70" height="12.73" fill="#221e27"/>
<rect x="37.60" y="499.54" width="14.70" height="12.73" fill="#1b8637"/>
<rect x="51.70" y="499.54" width="14.70" height="12.73" fill="#1b8637"/>
<rect x="65.80" y="499.54" width="14.70" height="12.73" fill="#1b8637"/>
<rect x="79.90" y="499.54" width="14.70" height="12.73" fill="#4e0d14"/>
<rect x="94.00" y="499.54" width="14.70" height="12.73" fill="#1b8637"/>
<rect x="108.10" y="499.54" width="14.70" height="12.73" fill="#1b8637"/>
<rect x="122.20" y="499.54" width="14.70" height="12.73" fill="#1b8637"/>
<rect x="136.30" y="499.54" width="14.70" height="12.73" fill="#4e0d14"/>
<rect x="150.40" y="499.54" width="14.70" height="12.73" fill="#1b8637"/>
<rect x="164.50" y="499.54" width="14.70" height="12.73" fill="#155126"/>
<rect x="178.60" y="499.54" width="14.70" height="12.73" fill="#155126"/>
<rect x="192.70" y="499.54" width="14.70" height="12.73" fill="#4e0d14"/>
<rect x="206.80" y="499.54" width="14.70" height="12.73" fill="#ee1e1c"/>
<rect x="220.90" y="499.54" width="14.10" height="12.73" fill="#ee1e1c"/>
<rect x="23.50" y="511.67" width="14.70" height="12.73" fill="#0e331a"/>
<rect x="37.60" y="511.67" width="14.70" height="12.73" fill="#155126"/>
<rect x="51.70" y="511.67" width="14.70" height="12.73" fill="#1a672b"/>
<rect x="65.80" y="511.67" width="14.70" height="12.73" fill="#cf2620"/>
<rect x="79.90" y="511.67" width="14.70" height="12.73" fill="#155126"/>
<rect x="94.00" y="511.67" width="14.70" height="12.73" fill="#0e331a"/>
<rect x="108.10" y="511.67" width="14.70" height="12.73" fill="#1c9f3e"/>
<rect x="122.20" y="511.67" width="14.70" height="12.73" fill="#cf2620"/>
<rect x="136.30" y="511.67" width="14.70" height="12.73" fill="#1b8637"/>
<rect x="150.40" y="511.67" width="14.70" height="12.73" fill="#4e0d14"/>
<rect x="164.50" y="511.67" width="14.70" height="12.73" fill="#1c9f3e"/>
<rect x="178.60" y="511.67" width="14.70" height="12.73" fill="#1b8637"/>
<rect x="192.70" y="511.67" width="14.70" height="12.73" fill="#1b8637"/>
<rect x="206.80" y="511.67" width="14.70" height="12.73" fill="#7c1a1c"/>
<rect x="220.90" y="511.67" width="14.10" height="12.73" fill="#ee1e1c"/>
<rect x="23.50" y="523.80" width="14.70" height="12.73" fill="#1a672b"/>
<rect x="37.60" y="523.80" width="14.70" height="12.73" fill="#1a672b"/>
<rect x="51.70" y="523.80" width="14.70" height="12.73" fill="#1a672b"/>
<rect x="65.80" y="523.80" width="14.70" height="12.73" fill="#4e0d14"/>
<rect x="79.90" y="523.80" width="14.70" height="12.73" fill="#1b8637"/>
<rect x="94.00" y="523.80" width="14.70" height="12.73" fill="#221e27"/>
<rect x="108.10" y="523.80" width="14.70" height="12.73" fill="#1c9f3e"/>
<rect x="122.20" y="523.80" width="14.70" height="12.73" fill="#1a672b"/>
<rect x="136.30" y="523.80" width="14.70" height="12.73" fill="#4e0d14"/>
<rect x="150.40" y="523.80" width="14.70" height="12.73" fill="#1b8637"/>
<rect x="164.50" y="523.80" width="14.70" height="12.73" fill="#221e27"/>
<rect x="178.60" y="523.80" width="14.70" height="12.73" fill="#4e0d14"/>
<rect x="192.70" y="523.80" width="14.70" height="12.73" fill="#4e0d14"/>
<rect x="206.80" y="523.80" width="14.70" height="12.73" fill="#ee1e1c"/>
<rect x="220.90" y="523.80" width="14.10" height="12.73" fill="#0e331a"/>
<rect x="23.50" y="535.93" width="14.70" height="12.73" fill="#4e0d14"/>
<rect x="37.60" y="535.93" width="14.70" height="12.73" fill="#0e331a"/>
<rect x="51.70" y="535.93" width="14.70" height="12.73" fill="#0e331a"/>
<rect x="65.80" y="535.93" width="14.70" height="12.73" fill="#1c9f3e"/>
<rect x="79.90" y="535.93" width="14.70" height="12.73" fill="#4e0d14"/>
<rect x="94.00" y="535.93" width="14.70" height="12.73" fill="#155126"/>
<rect x="108.10" y="535.93" width="14.70" height="12.73" fill="#221e27"/>
<rect x="122.20" y="535.93" width="14.70" height="12.73" fill="#1b8637"/>
<rect x="136.30" y="535.93" width="14.70" height="12.73" fill="#1a672b"/>
<rect x="150.40" y="535.93" width="14.70" height="12.73" fill="#0e331a"/>
<rect x="164.50" y="535.93" width="14.70" height="12.73" fill="#1a672b"/>
<rect x="178.60" y="535.93" width="14.70" height="12.73" fill="#1b8637"/>
<rect x="192.70" y="535.93" width="14.70" height="12.73" fill="#1a672b"/>
<rect x="206.80" y="535.93" width="14.70" height="12.73" fill="#ee1e1c"/>
<rect x="220.90" y="535.93" width="14.10" height="12.73" fill="#7c1a1c"/>
<rect x="23.50" y="548.06" width="14.70" height="12.73" fill="#1a672b"/>
<rect x="37.60" y="548.06" width="14.70" height="12.73" fill="#221e27"/>
<rect x="51.70" y="548.06" width="14.70" height="12.73" fill="#cf2620"/>
<rect x="65.80" y="548.06" width="14.70" height="12.73" fill="#1b8637"/>
<rect x="79.90" y="548.06" width="14.70" height="12.73" fill="#155126"/>
<rect x="94.00" y="548.06" width="14.70" height="12.73" fill="#155126"/>
<rect x="108.10" y="548.06" width="14.70" height="12.73" fill="#221e27"/>
<rect x="122.20" y="548.06" width="14.70" height="12.73" fill="#221e27"/>
<rect x="136.30" y="548.06" width="14.70" height="12.73" fill="#1a672b"/>
<rect x="150.40" y="548.06" width="14.70" height="12.73" fill="#1b8637"/>
<rect x="164.50" y="548.06" width="14.70" height="12.73" fill="#1a672b"/>
<rect x="178.60" y="548.06" width="14.70" height="12.73" fill="#1a672b"/>
<rect x="192.70" y="548.06" width="14.70" height="12.73" fill="#1a672b"/>
<rect x="206.80" y="548.06" width="14.70" height="12.73" fill="#ee1e1c"/>
<rect x="220.90" y="548.06" width="14.10" height="12.73" fill="#0e331a"/>
<rect x="23.50" y="560.19" width="14.70" height="12.73" fill="#1a672b"/>
<rect x="37.60" y="560.19" width="14.70" height="12.73" fill="#155126"/>
<rect x="51.70" y="560.19" width="14.70" height="12.73" fill="#4e0d14"/>
<rect x="65.80" y="560.19" width="14.70" height="12.73" fill="#221e27"/>
<rect x="79.90" y="560.19" width="14.70" height="12.73" fill="#1a672b"/>
<rect x="94.00" y="560.19" width="14.70" height="12.73" fill="#155126"/>
<rect x="108.10" y="560.19" width="14.70" height="12.73" fill="#0e331a"/>
<rect x="122.20" y="560.19" width="14.70" height="12.73" fill="#0e331a"/>
<rect x="136.30" y="560.19" width="14.70" height="12.73" fill="#1a672b"/>
<rect x="150.40" y="560.19" width="14.70" height="12.73" fill="#1a672b"/>
<rect x="164.50" y="560.19" width="14.70" height="12.73" fill="#1a672b"/>
<rect x="178.60" y="560.19" width="14.70" height="12.73" fill="#1a672b"/>
<rect x="192.70" y="560.19" width="14.70" height="12.73" fill="#1a672b"/>
<rect x="206.80" y="560.19" width="14.70" height="12.73" fill="#ee1e1c"/>
<rect x="220.90" y="560.19" width="14.10" height="12.73" fill="#4e0d14"/>
<rect x="23.50" y="572.32" width="14.70" height="12.73" fill="#1a672b"/>
<rect x="37.60" y="572.32" width="14.70" height="12.73" fill="#1a672b"/>
<rect x="51.70" y="572.32" width="14.70" height="12.73" fill="#221e27"/>
<rect x="65.80" y="572.32" width="14.70" height="12.73" fill="#221e27"/>
<rect x="79.90" y="572.32" width="14.70" height="12.73" fill="#1a672b"/>
<rect x="94.00" y="572.32" width="14.70" height="12.73" fill="#1a672b"/>
<rect x="108.10" y="572.32" width="14.70" height="12.73" fill="#1a672b"/>
<rect x="122.20" y="572.32" width="14.70" height="12.73" fill="#155126"/>
<rect x="136.30" y="572.32" width="14.70" height="12.73" fill="#155126"/>
<rect x="150.40" y="572.32" width="14.70" height="12.73" fill="#1a672b"/>
<rect x="164.50" y="572.32" width="14.70" height="12.73" fill="#1a672b"/>
<rect x="178.60" y="572.32" width="14.70" height="12.73" fill="#155126"/>
<rect x="192.70" y="572.32" width="14.70" height="12.73" fill="#1a672b"/>
<rect x="206.80" y="572.32" width="14.70" height="12.73" fill="#ee1e1c"/>
<rect x="220.90" y="572.32" width="14.10" height="12.73" fill="#7c1a1c"/>
<rect x="23.50" y="584.45" width="14.70" height="12.73" fill="#1a672b"/>
<rect x="37.60" y="584.45" width="14.70" height="12.73" fill="#1a672b"/>
<rect x="51.70" y="584.45" width="14.70" height="12.73" fill="#221e27"/>
<rect x="65.80" y="584.45" width="14.70" height="12.73" fill="#1a672b"/>
<rect x="79.90" y="584.45" width="14.70" height="12.73" fill="#1a672b"/>
<rect x="94.00" y="584.45" width="14.70" height="12.73" fill="#1a672b"/>
<rect x="108.10" y="584.45" width="14.70" height="12.73" fill="#1a672b"/>
<rect x="122.20" y="584.45" width="14.70" height="12.73" fill="#0e331a"/>
<rect x="136.30" y="584.45" width="14.70" height="12.73" fill="#1a672b"/>
<rect x="150.40" y="584.45" width="14.70" height="12.73" fill="#155126"/>
<rect x="164.50" y="584.45" width="14.70" height="12.73" fill="#1a672b"/>
<rect x="178.60" y="584.45" width="14.70" height="12.73" fill="#155126"/>
<rect x="192.70" y="584.45" width="14.70" height="12.73" fill="#1a672b"/>
<rect x="206.80" y="584.45" width="14.70" height="12.73" fill="#ee1e1c"/>
<rect x="220.90" y="584.45" width="14.10" height="12.73" fill="#7c1a1c"/>
<rect x="23.50" y="596.58" width="14.70" height="12.73" fill="#1a672b"/>
<rect x="37.60" y="596.58" width="14.70" height="12.73" fill="#1a672b"/>
<rect x="51.70" y="596.58" width="14.70" height="12.73" fill="#221e27"/>
<rect x="65.80" y="596.58" width="14.70" height="12.73" fill="#1a672b"/>
<rect x="79.90" y="596.58" width="14.70" height="12.73" fill="#155126"/>
<rect x="94.00" y="596.58" width="14.70" height="12.73" fill="#1a672b"/>
<rect x="108.10" y="596.58" width="14.70" height="12.73" fill="#1a672b"/>
<rect x="122.20" y="596.58" width="14.70" height="12.73" fill="#1a672b"/>
<rect x="136.30" y="596.58" width="14.70" height="12.73" fill="#0e331a"/>
<rect x="150.40" y="596.58" width="14.70" height="12.73" fill="#155126"/>
<rect x="164.50" y="596.58" width="14.70" height="12.73" fill="#1a672b"/>
<rect x="178.60" y="596.58" width="14.70" height="12.73" fill="#1a672b"/>
<rect x="192.70" y="596.58" width="14.70" height="12.73" fill="#0e331a"/>
<rect x="206.80" y="596.58" width="14.70" height="12.73" fill="#ee1e1c"/>
<rect x="220.90" y="596.58" width="14.10" height="12.73" fill="#4e0d14"/>
<rect x="23.50" y="608.71" width="14.70" height="12.73" fill="#221e27"/>
<rect x="37.60" y="608.71" width="14.70" height="12.73" fill="#7c1a1c"/>
<rect x="51.70" y="608.71" width="14.70" height="12.73" fill="#0e331a"/>
<rect x="65.80" y="608.71" width="14.70" height="12.73" fill="#0e331a"/>
<rect x="79.90" y="608.71" width="14.70" height="12.73" fill="#1a672b"/>
<rect x="94.00" y="608.71" width="14.70" height="12.73" fill="#221e27"/>
<rect x="108.10" y="608.71" width="14.70" height="12.73" fill="#221e27"/>
<rect x="122.20" y="608.71" width="14.70" height="12.73" fill="#155126"/>
<rect x="136.30" y="608.71" width="14.70" height="12.73" fill="#1a672b"/>
<rect x="150.40" y="608.71" width="14.70" height="12.73" fill="#1a672b"/>
<rect x="164.50" y="608.71" width="14.70" height="12.73" fill="#1a672b"/>
<rect x="178.60" y="608.71" width="14.70" height="12.73" fill="#1b8637"/>
<rect x="192.70" y="608.71" width="14.70" height="12.73" fill="#1a672b"/>
<rect x="206.80" y="608.71" width="14.70" height="12.73" fill="#ee1e1c"/>
<rect x="220.90" y="608.71" width="14.10" height="12.73" fill="#1a672b"/>
<rect x="23.50" y="620.84" width="14.70" height="12.73" fill="#0e331a"/>
<rect x="37.60" y="620.84" width="14.70" height="12.73" fill="#0e331a"/>
<rect x="51.70" y="620.84" width="14.70" height="12.73" fill="#221e27"/>
<rect x="65.80" y="620.84" width="14.70" height="12.73" fill="#221e27"/>
<rect x="79.90" y="620.84" width="14.70" height="12.73" fill="#155126"/>
<rect x="94.00" y="620.84" width="14.70" height="12.73" fill="#155126"/>
<rect x="108.10" y="620.84" width="14.70" height="12.73" fill="#155126"/>
<rect x="122.20" y="620.84" width="14.70" height="12.73" fill="#0e331a"/>
<rect x="136.30" y="620.84" width="14.70" height="12.73" fill="#155126"/>
<rect x="150.40" y="620.84" width="14.70" height="12.73" fill="#155126"/>
<rect x="164.50" y="620.84" width="14.70" height="12.73" fill="#0e331a"/>
<rect x="178.60" y="620.84" width="14.70" height="12.73" fill="#0e331a"/>
<rect x="192.70" y="620.84" width="14.70" height="12.73" fill="#155126"/>
<rect x="206.80" y="620.84" width="14.70" height="12.73" fill="#ee1e1c"/>
<rect x="220.90" y="620.84" width="14.10" height="12.73" fill="#0e331a"/>
<rect x="23.50" y="632.97" width="14.70" height="12.73" fill="#221e27"/>
<rect x="37.60" y="632.97" width="14.70" height="12.73" fill="#0e331a"/>
<rect x="51.70" y="632.97" width="14.70" height="12.73" fill="#0e331a"/>
<rect x="65.80" y="632.97" width="14.70" height="12.73" fill="#1a672b"/>
<rect x="79.90" y="632.97" width="14.70" height="12.73" fill="#221e27"/>
<rect x="94.00" y="632.97" width="14.70" height="12.73" fill="#155126"/>
<rect x="108.10" y="632.97" width="14.70" height="12.73" fill="#221e27"/>
<rect x="122.20" y="632.97" width="14.70" height="12.73" fill="#1b8637"/>
<rect x="136.30" y="632.97" width="14.70" height="12.73" fill="#0e331a"/>
<rect x="150.40" y="632.97" width="14.70" height="12.73" fill="#1a672b"/>
<rect x="164.50" y="632.97" width="14.70" height="12.73" fill="#1a672b"/>
<rect x="178.60" y="632.97" width="14.70" height="12.73" fill="#1a672b"/>
<rect x="192.70" y="632.97" width="14.70" height="12.73" fill="#0e331a"/>
<rect x="206.80" y="632.97" width="14.70" height="12.73" fill="#ee1e1c"/>
<rect x="220.90" y="632.97" width="14.10" height="12.73" fill="#1a672b"/>
<rect x="23.50" y="645.10" width="14.70" height="12.73" fill="#1a672b"/>
<rect x="37.60" y="645.10" width="14.70" height="12.73" fill="#155126"/>
<rect x="51.70" y="645.10" width="14.70" height="12.73" fill="#4e0d14"/>
<rect x="65.80" y="645.10" width="14.70" height="12.73" fill="#a82022"/>
<rect x="79.90" y="645.10" width="14.70" height="12.73" fill="#1a672b"/>
<rect x="94.00" y="645.10" width="14.70" height="12.73" fill="#1a672b"/>
<rect x="108.10" y="645.10" width="14.70" height="12.73" fill="#155126"/>
<rect x="122.20" y="645.10" width="14.70" height="12.73" fill="#221e27"/>
<rect x="136.30" y="645.10" width="14.70" height="12.73" fill="#1a672b"/>
<rect x="150.40" y="645.10" width="14.70" height="12.73" fill="#1a672b"/>
<rect x="164.50" y="645.10" width="14.70" height="12.73" fill="#1a672b"/>
<rect x="178.60" y="645.10" width="14.70" height="12.73" fill="#1a672b"/>
<rect x="192.70" y="645.10" width="14.70" height="12.73" fill="#1a672b"/>
<rect x="206.80" y="645.10" width="14.70" height="12.73" fill="#ee1e1c"/>
<rect x="220.90" y="645.10" width="14.10" height="12.73" fill="#0e331a"/>
<rect x="23.50" y="657.23" width="14.70" height="12.73" fill="#221e27"/>
<rect x="37.60" y="657.23" width="14.70" height="12.73" fill="#1a672b"/>
<rect x="51.70" y="657.23" width="14.70" height="12.73" fill="#155126"/>
<rect x="65.80" y="657.23" width="14.70" height="12.73" fill="#a82022"/>
<rect x="79.90" y="657.23" width="14.70" height="12.73" fill="#4e0d14"/>
<rect x="94.00" y="657.23" width="14.70" height="12.73" fill="#1b8637"/>
<rect x="108.10" y="657.23" width="14.70" height="12.73" fill="#155126"/>
<rect x="122.20" y="657.23" width="14.70" height="12.73" fill="#1a672b"/>
<rect x="136.30" y="657.23" width="14.70" height="12.73" fill="#155126"/>
<rect x="150.40" y="657.23" width="14.70" height="12.73" fill="#1b8637"/>
<rect x="164.50" y="657.23" width="14.70" height="12.73" fill="#1c9f3e"/>
<rect x="178.60" y="657.23" width="14.70" height="12.73" fill="#1b8637"/>
<rect x="192.70" y="657.23" width="14.70" height="12.73" fill="#155126"/>
<rect x="206.80" y="657.23" width="14.70" height="12.73" fill="#ee1e1c"/>
<rect x="220.90" y="657.23" width="14.10" height="12.73" fill="#4e0d14"/>
<rect x="23.50" y="669.36" width="14.70" height="12.13" fill="#1a672b"/>
<rect x="37.60" y="669.36" width="14.70" height="12.13" fill="#4e0d14"/>
<rect x="51.70" y="669.36" width="14.70" height="12.13" fill="#cf2620"/>
<rect x="65.80" y="669.36" width="14.70" height="12.13" fill="#1a672b"/>
<rect x="79.90" y="669.36" width="14.70" height="12.13" fill="#155126"/>
<rect x="94.00" y="669.36" width="14.70" height="12.13" fill="#221e27"/>
<rect x="108.10" y="669.36" width="14.70" height="12.13" fill="#a82022"/>
<rect x="122.20" y="669.36" width="14.70" height="12.13" fill="#1a672b"/>
<rect x="136.30" y="669.36" width="14.70" height="12.13" fill="#221e27"/>
<rect x="150.40" y="669.36" width="14.70" height="12.13" fill="#1b8637"/>
<rect x="164.50" y="669.36" width="14.70" height="12.13" fill="#1a672b"/>
<rect x="178.60" y="669.36" width="14.70" height="12.13" fill="#1b8637"/>
<rect x="192.70" y="669.36" width="14.70" height="12.13" fill="#221e27"/>
<rect x="206.80" y="669.36" width="14.70" height="12.13" fill="#ee1e1c"/>
<rect x="220.90" y="669.36" width="14.10" height="12.13" fill="#1c9f3e"/>
</g>
<text x="241" y="47.70" font-size="10.15" fill="#222">NFATC1, nuclear factor of activated t-cells</text>
<text x="241" y="59.87" font-size="10.15" fill="#222">CASP1, caspase1</text>
<text x="241" y="72.04" font-size="10.15" fill="#222">FOXO3, forkhead box o3a</text>
<text x="241" y="84.22" font-size="10.15" fill="#222">LMNA, lamin a/c</text>
<text x="241" y="96.39" font-size="10.15" fill="#222">PTPN13, protein tyrosine phophatase</text>
<text x="241" y="108.56" font-size="10.15" fill="#222">GZMB, granzyme b</text>
<text x="241" y="120.73" font-size="10.15" fill="#222">DNASE1L3, deoxyribonuclease i-like 3</text>
<text x="241" y="132.90" font-size="10.15" fill="#222">BID, bh3 interacting domain death agonist</text>
<text x="241" y="145.08" font-size="10.15" fill="#222">GSS, glutathione synthetase</text>
<text x="241" y="157.25" font-size="10.15" fill="#222">BIRC5, baculoviral iap repeat 5 (survivin)</text>
<text x="241" y="169.42" font-size="10.15" fill="#222">CST42, NOX1, cleavage stimulation factor</text>
<text x="241" y="181.59" font-size="10.15" fill="#222">LMNB1, lamin b1</text>
<text x="241" y="193.76" font-size="10.15" fill="#222">SIVA, cd27-binding (siva) protein</text>
<text x="241" y="205.94" font-size="10.15" fill="#222">E2F1, e2f transcription factor 1</text>
<text x="241" y="218.11" font-size="10.15" fill="#222">GTSE1, g-2 and s-phase expressed 1</text>
<text x="241" y="230.28" font-size="10.15" fill="#222">HMGB2, high-mobility group box 2</text>
<text x="241" y="242.45" font-size="10.15" fill="#222">AIFM1, apoptosis-inducing factor, mitochondrion-associated, 1</text>
<text x="241" y="254.62" font-size="10.15" fill="#222">SFR2IP, splicing factor</text>
<text x="241" y="266.80" font-size="10.15" fill="#222">PARP1, poly (adp-ribose) polymerase family, member 1</text>
<text x="241" y="278.97" font-size="10.15" fill="#222">LMNB2, lamin b2</text>
<text x="241" y="291.14" font-size="10.15" fill="#222">DFFA, dna fragmentation factor</text>
<text x="241" y="303.31" font-size="10.15" fill="#222">NFKBIB, NFKB inhibitor beta</text>
<text x="241" y="315.48" font-size="10.15" fill="#222">NME1, non-metastatic cells 1</text>
<text x="241" y="327.66" font-size="10.15" fill="#222">HDAC2, histone deacetylase 2</text>
<text x="241" y="339.83" font-size="10.15" fill="#222">DIABLO, diablo homolog (drosophila)</text>
<text x="241" y="352.00" font-size="10.15" fill="#222">ANP32A, acidic nuclear phosphoprotein 32 family , member a</text>
<text x="241" y="364.17" font-size="10.15" fill="#222">SET, set translocation (myeloid leukemia associated)</text>
<text x="241" y="376.34" font-size="10.15" fill="#222">FAS, fas (tnf receptor superfamily , member 6)</text>
<text x="241" y="388.52" font-size="10.15" fill="#222">PIM1, pim-1 oncogene</text>
<text x="241" y="400.69" font-size="10.15" fill="#222">NFKB1, NFKB 1 (p105)</text>
<text x="241" y="412.86" font-size="10.15" fill="#222">GADD45B, growth arrest and dna-damage-inducible, beta</text>
<text x="241" y="425.03" font-size="10.15" fill="#222">SERPINB9, serine protease inhibitor</text>
<text x="241" y="437.20" font-size="10.15" fill="#222">CD40, cd40 antigen (tnf receptor superfamily member 5)</text>
<text x="241" y="449.38" font-size="10.15" fill="#222">RIPK2, receptor-interacting serine-threonine kinase 2</text>
<text x="241" y="461.55" font-size="10.15" fill="#222">CFLAR, casp8 and fadd-like apoptosis regulator</text>
<text x="241" y="473.72" font-size="10.15" fill="#222">NFKBIE, NFKB inhibitor, epsilon</text>
<text x="241" y="485.89" font-size="10.15" fill="#222">NFKB2, NFKB 2 (p49/p100)</text>
<text x="241" y="498.06" font-size="10.15" fill="#222">CYCS, cytochrome c</text>
<text x="241" y="510.24" font-size="10.15" fill="#222">BCL2, b-cell cll/lymphoma 2</text>
<text x="241" y="522.41" font-size="10.15" fill="#222">PPP3CB, protein phosphatase 3, catalytic subunit</text>
<text x="241" y="534.58" font-size="10.15" fill="#222">IL8, interleukin 8</text>
<text x="241" y="546.75" font-size="10.15" fill="#222">BIRC2, baculoviral iap repeat-containing 2</text>
<text x="241" y="558.92" font-size="10.15" fill="#222">LTA, lymphotoxin alpha (tnf superfamily, member 1)</text>
<text x="241" y="571.10" font-size="10.15" fill="#222">BCL2A1, bcl2-related protein a1</text>
<text x="241" y="583.27" font-size="10.15" fill="#222">BCL2L1, bcl2-like 1</text>
<text x="241" y="595.44" font-size="10.15" fill="#222">TRAF1, tnf receptor-associated factor 1</text>
<text x="241" y="607.61" font-size="10.15" fill="#222">NFKBIA, NFKB inhibitor alpha</text>
<text x="241" y="619.78" font-size="10.15" fill="#222">NR4A1, nuclear receptor subfamily 4, group a, member 1</text>
<text x="241" y="631.96" font-size="10.15" fill="#222">NR4A3, nuclear receptor subfamily 4, group a, member 3</text>
<text x="241" y="644.13" font-size="10.15" fill="#222">BIRC3, baculoviral iap repeat-containing 3</text>
<text x="241" y="656.30" font-size="10.15" fill="#222">BCL2L11, bcl2-like 11 (apoptosis fascilitator)</text>
<text x="241" y="668.47" font-size="10.15" fill="#222">MCL1, myeloid cell leukemia sequence 1 (bcl2-related)</text>
<text x="241" y="680.64" font-size="10.15" fill="#222">TNF, tumor necrosis factor (tnf superfamily, member 2)</text>
<path d="M431.00 117.60L431.00 113.40M431.00 117.60L434.33 116.52M431.00 117.60L427.67 116.52M431.00 117.60L433.12 120.51M431.00 117.60L428.88 120.51" stroke="#111" stroke-width="2.0" stroke-linecap="round" fill="none"/>
<path d="M442.90 130.10L442.90 125.90M442.90 130.10L446.23 129.02M442.90 130.10L439.57 129.02M442.90 130.10L445.02 133.01M442.90 130.10L440.78 133.01" stroke="#111" stroke-width="2.0" stroke-linecap="round" fill="none"/>
<path d="M437.90 154.40L437.90 150.20M437.90 154.40L441.23 153.32M437.90 154.40L434.57 153.32M437.90 154.40L440.02 157.31M437.90 154.40L435.78 157.31" stroke="#111" stroke-width="2.0" stroke-linecap="round" fill="none"/>
<path d="M398.20 568.60L398.20 564.40M398.20 568.60L401.53 567.52M398.20 568.60L394.87 567.52M398.20 568.60L400.32 571.51M398.20 568.60L396.08 571.51" stroke="#111" stroke-width="2.0" stroke-linecap="round" fill="none"/>
<path d="M342.30 579.20L342.30 575.00M342.30 579.20L345.63 578.12M342.30 579.20L338.97 578.12M342.30 579.20L344.42 582.11M342.30 579.20L340.18 582.11" stroke="#111" stroke-width="2.0" stroke-linecap="round" fill="none"/>
<path d="M450.40 653.30L450.40 649.10M450.40 653.30L453.73 652.22M450.40 653.30L447.07 652.22M450.40 653.30L452.52 656.21M450.40 653.30L448.28 656.21" stroke="#111" stroke-width="2.0" stroke-linecap="round" fill="none"/>
<rect x="15.6" y="42.1" width="2.7" height="62.8" fill="#111"/>
<text x="5.3" y="77.8" font-size="16" text-anchor="middle" fill="#222">1</text>
<rect x="15.6" y="111.9" width="2.7" height="150.9" fill="#111"/>
<text x="5.3" y="187.6" font-size="16" text-anchor="middle" fill="#222">2</text>
<rect x="15.6" y="273.3" width="2.7" height="246.9" fill="#111"/>
<text x="5.3" y="377.6" font-size="16" text-anchor="middle" fill="#222">3</text>
<rect x="15.6" y="524.9" width="2.7" height="144.2" fill="#111"/>
<text x="5.3" y="591.4" font-size="16" text-anchor="middle" fill="#222">4</text>
<text x="0.2" y="726.5" font-size="24.5" font-weight="bold" fill="#000">B</text>
<text x="0.2" y="923.2" font-size="24.5" font-weight="bold" fill="#000">C</text>
<text x="156.6" y="721.30" font-size="14.4" font-weight="bold" font-style="italic" text-anchor="end" fill="#111">DNAse1L3</text>
<rect x="46.7" y="728.8" width="111.2" height="123.4" fill="none" stroke="#8e8e8e" stroke-width="1.3"/>
<text transform="translate(39.6,855.70) scale(1,1.15)" font-size="9.6" text-anchor="end" fill="#222">0</text>
<text transform="translate(39.6,838.07) scale(1,1.15)" font-size="9.6" text-anchor="end" fill="#222">5</text>
<text transform="translate(39.6,820.44) scale(1,1.15)" font-size="9.6" text-anchor="end" fill="#222">10</text>
<text transform="translate(39.6,802.81) scale(1,1.15)" font-size="9.6" text-anchor="end" fill="#222">15</text>
<text transform="translate(39.6,785.19) scale(1,1.15)" font-size="9.6" text-anchor="end" fill="#222">20</text>
<text transform="translate(39.6,767.56) scale(1,1.15)" font-size="9.6" text-anchor="end" fill="#222">25</text>
<text transform="translate(39.6,749.93) scale(1,1.15)" font-size="9.6" text-anchor="end" fill="#222">30</text>
<text transform="translate(39.6,732.30) scale(1,1.15)" font-size="9.6" text-anchor="end" fill="#222">35</text>
<text transform="translate(21.6,790.5) rotate(-90)" x="0" y="3.3" font-size="9.5" text-anchor="middle" fill="#222">fold induction</text>
<line x1="51.80" y1="822.76" x2="51.80" y2="815.53" stroke="#222" stroke-width="1.2"/>
<line x1="48.20" y1="815.53" x2="55.40" y2="815.53" stroke="#222" stroke-width="1.4"/>
<rect x="48.00" y="822.76" width="7.60" height="29.44" fill="#434343" stroke="#111" stroke-width="1.3"/>
<line x1="61.30" y1="767.94" x2="61.30" y2="748.90" stroke="#222" stroke-width="1.2"/>
<line x1="57.70" y1="748.90" x2="64.90" y2="748.90" stroke="#222" stroke-width="1.4"/>
<rect x="56.80" y="767.94" width="9.00" height="84.26" fill="#434343" stroke="#111" stroke-width="1.3"/>
<line x1="81.20" y1="838.45" x2="81.20" y2="838.10" stroke="#222" stroke-width="1.2"/>
<line x1="77.60" y1="838.10" x2="84.80" y2="838.10" stroke="#222" stroke-width="1.4"/>
<rect x="77.40" y="838.45" width="7.60" height="13.75" fill="#ffffff" stroke="#111" stroke-width="1.3"/>
<line x1="91.00" y1="804.25" x2="91.00" y2="794.03" stroke="#222" stroke-width="1.2"/>
<line x1="87.40" y1="794.03" x2="94.60" y2="794.03" stroke="#222" stroke-width="1.4"/>
<rect x="86.20" y="804.25" width="9.60" height="47.95" fill="#ffffff" stroke="#111" stroke-width="1.3"/>
<line x1="111.20" y1="849.38" x2="111.20" y2="847.97" stroke="#222" stroke-width="1.2"/>
<line x1="107.60" y1="847.97" x2="114.80" y2="847.97" stroke="#222" stroke-width="1.4"/>
<rect x="107.80" y="849.38" width="6.80" height="2.82" fill="#262626" stroke="#111" stroke-width="1.3"/>
<line x1="120.70" y1="848.67" x2="120.70" y2="846.21" stroke="#222" stroke-width="1.2"/>
<line x1="117.10" y1="846.21" x2="124.30" y2="846.21" stroke="#222" stroke-width="1.4"/>
<rect x="117.20" y="848.67" width="7.00" height="3.53" fill="#262626" stroke="#111" stroke-width="1.3"/>
<line x1="140.60" y1="802.49" x2="140.60" y2="777.45" stroke="#222" stroke-width="1.2"/>
<line x1="137.00" y1="777.45" x2="144.20" y2="777.45" stroke="#222" stroke-width="1.4"/>
<rect x="136.30" y="802.49" width="8.60" height="49.71" fill="#cdd0d8" stroke="#111" stroke-width="1.3"/>
<line x1="150.40" y1="771.11" x2="150.40" y2="747.49" stroke="#222" stroke-width="1.2"/>
<line x1="146.80" y1="747.49" x2="154.00" y2="747.49" stroke="#222" stroke-width="1.4"/>
<rect x="146.10" y="771.11" width="8.60" height="81.09" fill="#cdd0d8" stroke="#111" stroke-width="1.3"/>
<text transform="translate(51.80,863.9) scale(1,1.12)" font-size="9.6" text-anchor="middle" fill="#222">8</text>
<text transform="translate(62.10,863.9) scale(1,1.12)" font-size="9.6" text-anchor="middle" fill="#222">24</text>
<text transform="translate(81.20,863.9) scale(1,1.12)" font-size="9.6" text-anchor="middle" fill="#222">8</text>
<text transform="translate(91.80,863.9) scale(1,1.12)" font-size="9.6" text-anchor="middle" fill="#222">24</text>
<text transform="translate(111.20,863.9) scale(1,1.12)" font-size="9.6" text-anchor="middle" fill="#222">8</text>
<text transform="translate(121.50,863.9) scale(1,1.12)" font-size="9.6" text-anchor="middle" fill="#222">24</text>
<text transform="translate(140.60,863.9) scale(1,1.12)" font-size="9.6" text-anchor="middle" fill="#222">4</text>
<text transform="translate(151.20,863.9) scale(1,1.12)" font-size="9.6" text-anchor="middle" fill="#222">24</text>
<text x="102.6" y="877.8" font-size="9.7" text-anchor="middle" fill="#222">hours after induction</text>
<text x="318.9" y="721.70" font-size="14.0" font-weight="bold" font-style="italic" text-anchor="end" fill="#111">BID</text>
<rect x="206.0" y="728.8" width="114.4" height="122.6" fill="none" stroke="#8e8e8e" stroke-width="1.3"/>
<text transform="translate(201.0,854.90) scale(1,1.15)" font-size="9.6" text-anchor="end" fill="#222">0</text>
<text transform="translate(201.0,834.47) scale(1,1.15)" font-size="9.6" text-anchor="end" fill="#222">1</text>
<text transform="translate(201.0,814.03) scale(1,1.15)" font-size="9.6" text-anchor="end" fill="#222">2</text>
<text transform="translate(201.0,793.60) scale(1,1.15)" font-size="9.6" text-anchor="end" fill="#222">3</text>
<text transform="translate(201.0,773.17) scale(1,1.15)" font-size="9.6" text-anchor="end" fill="#222">4</text>
<text transform="translate(201.0,752.73) scale(1,1.15)" font-size="9.6" text-anchor="end" fill="#222">5</text>
<text transform="translate(201.0,732.30) scale(1,1.15)" font-size="9.6" text-anchor="end" fill="#222">6</text>
<text transform="translate(186.4,789.9) rotate(-90)" x="0" y="3.3" font-size="9.5" text-anchor="middle" fill="#222">fold induction</text>
<line x1="211.85" y1="817.68" x2="211.85" y2="801.95" stroke="#222" stroke-width="1.2"/>
<line x1="208.25" y1="801.95" x2="215.45" y2="801.95" stroke="#222" stroke-width="1.4"/>
<rect x="207.60" y="817.68" width="8.50" height="33.72" fill="#434343" stroke="#111" stroke-width="1.3"/>
<line x1="221.65" y1="793.78" x2="221.65" y2="782.34" stroke="#222" stroke-width="1.2"/>
<line x1="218.05" y1="782.34" x2="225.25" y2="782.34" stroke="#222" stroke-width="1.4"/>
<rect x="217.30" y="793.78" width="8.70" height="57.62" fill="#434343" stroke="#111" stroke-width="1.3"/>
<line x1="242.25" y1="824.22" x2="242.25" y2="811.76" stroke="#222" stroke-width="1.2"/>
<line x1="238.65" y1="811.76" x2="245.85" y2="811.76" stroke="#222" stroke-width="1.4"/>
<rect x="237.60" y="824.22" width="9.30" height="27.18" fill="#ffffff" stroke="#111" stroke-width="1.3"/>
<line x1="252.55" y1="808.90" x2="252.55" y2="796.84" stroke="#222" stroke-width="1.2"/>
<line x1="248.95" y1="796.84" x2="256.15" y2="796.84" stroke="#222" stroke-width="1.4"/>
<rect x="248.10" y="808.90" width="8.90" height="42.50" fill="#ffffff" stroke="#111" stroke-width="1.3"/>
<line x1="273.15" y1="839.34" x2="273.15" y2="835.67" stroke="#222" stroke-width="1.2"/>
<line x1="269.55" y1="835.67" x2="276.75" y2="835.67" stroke="#222" stroke-width="1.4"/>
<rect x="270.00" y="839.34" width="6.30" height="12.06" fill="#262626" stroke="#111" stroke-width="1.3"/>
<line x1="283.10" y1="833.42" x2="283.10" y2="824.84" stroke="#222" stroke-width="1.2"/>
<line x1="279.50" y1="824.84" x2="286.70" y2="824.84" stroke="#222" stroke-width="1.4"/>
<rect x="279.30" y="833.42" width="7.60" height="17.98" fill="#262626" stroke="#111" stroke-width="1.3"/>
<line x1="303.90" y1="755.57" x2="303.90" y2="751.28" stroke="#222" stroke-width="1.2"/>
<line x1="300.30" y1="751.28" x2="307.50" y2="751.28" stroke="#222" stroke-width="1.4"/>
<rect x="299.60" y="755.57" width="8.60" height="95.83" fill="#cdd0d8" stroke="#111" stroke-width="1.3"/>
<line x1="314.25" y1="785.60" x2="314.25" y2="772.53" stroke="#222" stroke-width="1.2"/>
<line x1="310.65" y1="772.53" x2="317.85" y2="772.53" stroke="#222" stroke-width="1.4"/>
<rect x="309.40" y="785.60" width="9.70" height="65.80" fill="#cdd0d8" stroke="#111" stroke-width="1.3"/>
<text transform="translate(211.85,863.9) scale(1,1.12)" font-size="9.6" text-anchor="middle" fill="#222">8</text>
<text transform="translate(222.45,863.9) scale(1,1.12)" font-size="9.6" text-anchor="middle" fill="#222">24</text>
<text transform="translate(242.25,863.9) scale(1,1.12)" font-size="9.6" text-anchor="middle" fill="#222">8</text>
<text transform="translate(253.35,863.9) scale(1,1.12)" font-size="9.6" text-anchor="middle" fill="#222">24</text>
<text transform="translate(273.15,863.9) scale(1,1.12)" font-size="9.6" text-anchor="middle" fill="#222">8</text>
<text transform="translate(283.90,863.9) scale(1,1.12)" font-size="9.6" text-anchor="middle" fill="#222">24</text>
<text transform="translate(303.90,863.9) scale(1,1.12)" font-size="9.6" text-anchor="middle" fill="#222">4</text>
<text transform="translate(315.05,863.9) scale(1,1.12)" font-size="9.6" text-anchor="middle" fill="#222">24</text>
<text x="263.0" y="877.8" font-size="9.7" text-anchor="middle" fill="#222">hours after induction</text>
<text x="484.4" y="717.60" font-size="13.6" font-weight="bold" font-style="italic" text-anchor="end" fill="#111">Bcl2L11</text>
<rect x="372.7" y="724.5" width="110.9" height="125.9" fill="none" stroke="#8e8e8e" stroke-width="1.3"/>
<text transform="translate(367.8,853.90) scale(1,1.15)" font-size="9.6" text-anchor="end" fill="#222">0</text>
<text transform="translate(367.8,822.42) scale(1,1.15)" font-size="9.6" text-anchor="end" fill="#222">5</text>
<text transform="translate(367.8,790.95) scale(1,1.15)" font-size="9.6" text-anchor="end" fill="#222">10</text>
<text transform="translate(367.8,759.48) scale(1,1.15)" font-size="9.6" text-anchor="end" fill="#222">15</text>
<text transform="translate(367.8,728.00) scale(1,1.15)" font-size="9.6" text-anchor="end" fill="#222">20</text>
<text transform="translate(348.0,787.5) rotate(-90)" x="0" y="3.3" font-size="9.5" text-anchor="middle" fill="#222">fold induction</text>
<line x1="378.45" y1="841.21" x2="378.45" y2="835.73" stroke="#222" stroke-width="1.2"/>
<line x1="374.85" y1="835.73" x2="382.05" y2="835.73" stroke="#222" stroke-width="1.4"/>
<rect x="374.30" y="841.21" width="8.30" height="9.19" fill="#434343" stroke="#111" stroke-width="1.3"/>
<line x1="388.25" y1="828.49" x2="388.25" y2="816.03" stroke="#222" stroke-width="1.2"/>
<line x1="384.65" y1="816.03" x2="391.85" y2="816.03" stroke="#222" stroke-width="1.4"/>
<rect x="383.80" y="828.49" width="8.90" height="21.91" fill="#434343" stroke="#111" stroke-width="1.3"/>
<rect x="404.30" y="842.22" width="7.70" height="8.18" fill="#ffffff" stroke="#111" stroke-width="1.3"/>
<line x1="417.65" y1="838.31" x2="417.65" y2="836.55" stroke="#222" stroke-width="1.2"/>
<line x1="414.05" y1="836.55" x2="421.25" y2="836.55" stroke="#222" stroke-width="1.4"/>
<rect x="413.20" y="838.31" width="8.90" height="12.09" fill="#ffffff" stroke="#111" stroke-width="1.3"/>
<line x1="438.65" y1="844.48" x2="438.65" y2="843.22" stroke="#222" stroke-width="1.2"/>
<line x1="435.05" y1="843.22" x2="442.25" y2="843.22" stroke="#222" stroke-width="1.4"/>
<rect x="435.40" y="844.48" width="6.50" height="5.92" fill="#262626" stroke="#111" stroke-width="1.3"/>
<line x1="448.70" y1="843.22" x2="448.70" y2="841.59" stroke="#222" stroke-width="1.2"/>
<line x1="445.10" y1="841.59" x2="452.30" y2="841.59" stroke="#222" stroke-width="1.4"/>
<rect x="445.30" y="843.22" width="6.80" height="7.18" fill="#262626" stroke="#111" stroke-width="1.3"/>
<line x1="468.40" y1="766.68" x2="468.40" y2="743.38" stroke="#222" stroke-width="1.2"/>
<line x1="464.80" y1="743.38" x2="472.00" y2="743.38" stroke="#222" stroke-width="1.4"/>
<rect x="463.70" y="766.68" width="9.40" height="83.72" fill="#cdd0d8" stroke="#111" stroke-width="1.3"/>
<line x1="478.70" y1="839.89" x2="478.70" y2="838.31" stroke="#222" stroke-width="1.2"/>
<line x1="475.10" y1="838.31" x2="482.30" y2="838.31" stroke="#222" stroke-width="1.4"/>
<rect x="474.30" y="839.89" width="8.80" height="10.51" fill="#cdd0d8" stroke="#111" stroke-width="1.3"/>
<text transform="translate(377.30,863.0) scale(1,1.12)" font-size="9.6" text-anchor="middle" fill="#222">8</text>
<text transform="translate(387.70,863.0) scale(1,1.12)" font-size="9.6" text-anchor="middle" fill="#222">24</text>
<text transform="translate(406.60,863.0) scale(1,1.12)" font-size="9.6" text-anchor="middle" fill="#222">8</text>
<text transform="translate(417.00,863.0) scale(1,1.12)" font-size="9.6" text-anchor="middle" fill="#222">24</text>
<text transform="translate(437.70,863.0) scale(1,1.12)" font-size="9.6" text-anchor="middle" fill="#222">8</text>
<text transform="translate(447.00,863.0) scale(1,1.12)" font-size="9.6" text-anchor="middle" fill="#222">24</text>
<text transform="translate(465.50,863.0) scale(1,1.12)" font-size="9.6" text-anchor="middle" fill="#222">4</text>
<text transform="translate(475.20,863.0) scale(1,1.12)" font-size="9.6" text-anchor="middle" fill="#222">24</text>
<text x="427.7" y="876.2" font-size="9.7" text-anchor="middle" fill="#222">hours after induction</text>
<text x="156.5" y="915.30" font-size="13.2" font-weight="bold" font-style="italic" text-anchor="end" fill="#111">Bcl2A1</text>
<rect x="49.7" y="920.9" width="107.3" height="121.6" fill="none" stroke="#8e8e8e" stroke-width="1.3"/>
<text transform="translate(43.2,1046.00) scale(1,1.15)" font-size="9.6" text-anchor="end" fill="#222">0</text>
<text transform="translate(43.2,1032.49) scale(1,1.15)" font-size="9.6" text-anchor="end" fill="#222">10</text>
<text transform="translate(43.2,1018.98) scale(1,1.15)" font-size="9.6" text-anchor="end" fill="#222">20</text>
<text transform="translate(43.2,1005.47) scale(1,1.15)" font-size="9.6" text-anchor="end" fill="#222">30</text>
<text transform="translate(43.2,991.96) scale(1,1.15)" font-size="9.6" text-anchor="end" fill="#222">40</text>
<text transform="translate(43.2,978.44) scale(1,1.15)" font-size="9.6" text-anchor="end" fill="#222">50</text>
<text transform="translate(43.2,964.93) scale(1,1.15)" font-size="9.6" text-anchor="end" fill="#222">60</text>
<text transform="translate(43.2,951.42) scale(1,1.15)" font-size="9.6" text-anchor="end" fill="#222">70</text>
<text transform="translate(43.2,937.91) scale(1,1.15)" font-size="9.6" text-anchor="end" fill="#222">80</text>
<text transform="translate(43.2,924.40) scale(1,1.15)" font-size="9.6" text-anchor="end" fill="#222">90</text>
<text transform="translate(24.4,981.6) rotate(-90)" x="0" y="3.3" font-size="9.5" text-anchor="middle" fill="#222">fold induction</text>
<rect x="51.10" y="1039.53" width="7.70" height="2.97" fill="#434343" stroke="#111" stroke-width="1.3"/>
<line x1="64.15" y1="1036.28" x2="64.15" y2="1035.74" stroke="#222" stroke-width="1.2"/>
<line x1="60.55" y1="1035.74" x2="67.75" y2="1035.74" stroke="#222" stroke-width="1.4"/>
<rect x="60.00" y="1036.28" width="8.30" height="6.22" fill="#434343" stroke="#111" stroke-width="1.3"/>
<rect x="79.90" y="1040.20" width="7.60" height="2.30" fill="#ffffff" stroke="#111" stroke-width="1.3"/>
<rect x="89.40" y="1037.91" width="8.50" height="4.59" fill="#ffffff" stroke="#111" stroke-width="1.3"/>
<rect x="109.80" y="1041.15" width="6.50" height="1.35" fill="#262626" stroke="#111" stroke-width="1.3"/>
<rect x="119.70" y="1041.15" width="6.10" height="1.35" fill="#262626" stroke="#111" stroke-width="1.3"/>
<line x1="141.90" y1="932.38" x2="141.90" y2="924.14" stroke="#222" stroke-width="1.2"/>
<line x1="138.30" y1="924.14" x2="145.50" y2="924.14" stroke="#222" stroke-width="1.4"/>
<rect x="138.10" y="932.38" width="7.60" height="110.12" fill="#cdd0d8" stroke="#111" stroke-width="1.3"/>
<line x1="151.05" y1="1031.96" x2="151.05" y2="1028.72" stroke="#222" stroke-width="1.2"/>
<line x1="147.45" y1="1028.72" x2="154.65" y2="1028.72" stroke="#222" stroke-width="1.4"/>
<rect x="146.90" y="1031.96" width="8.30" height="10.54" fill="#cdd0d8" stroke="#111" stroke-width="1.3"/>
<text transform="translate(54.95,1055.0) scale(1,1.12)" font-size="9.6" text-anchor="middle" fill="#222">8</text>
<text transform="translate(64.95,1055.0) scale(1,1.12)" font-size="9.6" text-anchor="middle" fill="#222">24</text>
<text transform="translate(83.70,1055.0) scale(1,1.12)" font-size="9.6" text-anchor="middle" fill="#222">8</text>
<text transform="translate(94.45,1055.0) scale(1,1.12)" font-size="9.6" text-anchor="middle" fill="#222">24</text>
<text transform="translate(113.05,1055.0) scale(1,1.12)" font-size="9.6" text-anchor="middle" fill="#222">8</text>
<text transform="translate(123.55,1055.0) scale(1,1.12)" font-size="9.6" text-anchor="middle" fill="#222">24</text>
<text transform="translate(141.90,1055.0) scale(1,1.12)" font-size="9.6" text-anchor="middle" fill="#222">4</text>
<text transform="translate(151.85,1055.0) scale(1,1.12)" font-size="9.6" text-anchor="middle" fill="#222">24</text>
<text x="105.3" y="1068.2" font-size="9.7" text-anchor="middle" fill="#222">hours after induction</text>
<text x="321.0" y="915.00" font-size="13.6" font-weight="bold" font-style="italic" text-anchor="end" fill="#111">Bcl2L1</text>
<rect x="210.9" y="918.6" width="109.5" height="125.8" fill="none" stroke="#8e8e8e" stroke-width="1.3"/>
<text transform="translate(204.3,1047.90) scale(1,1.15)" font-size="9.6" text-anchor="end" fill="#222">0</text>
<text transform="translate(204.3,1026.93) scale(1,1.15)" font-size="9.6" text-anchor="end" fill="#222">5</text>
<text transform="translate(204.3,1005.97) scale(1,1.15)" font-size="9.6" text-anchor="end" fill="#222">10</text>
<text transform="translate(204.3,985.00) scale(1,1.15)" font-size="9.6" text-anchor="end" fill="#222">15</text>
<text transform="translate(204.3,964.03) scale(1,1.15)" font-size="9.6" text-anchor="end" fill="#222">20</text>
<text transform="translate(204.3,943.07) scale(1,1.15)" font-size="9.6" text-anchor="end" fill="#222">25</text>
<text transform="translate(204.3,922.10) scale(1,1.15)" font-size="9.6" text-anchor="end" fill="#222">30</text>
<text transform="translate(186.6,982.2) rotate(-90)" x="0" y="3.3" font-size="9.5" text-anchor="middle" fill="#222">fold induction</text>
<rect x="212.50" y="1039.37" width="8.10" height="5.03" fill="#434343" stroke="#111" stroke-width="1.3"/>
<line x1="225.80" y1="1033.08" x2="225.80" y2="1031.99" stroke="#222" stroke-width="1.2"/>
<line x1="222.20" y1="1031.99" x2="229.40" y2="1031.99" stroke="#222" stroke-width="1.4"/>
<rect x="221.80" y="1033.08" width="8.00" height="11.32" fill="#434343" stroke="#111" stroke-width="1.3"/>
<rect x="241.40" y="1039.79" width="8.00" height="4.61" fill="#ffffff" stroke="#111" stroke-width="1.3"/>
<rect x="251.80" y="1039.79" width="7.60" height="4.61" fill="#ffffff" stroke="#111" stroke-width="1.3"/>
<rect x="272.60" y="1041.05" width="6.20" height="3.35" fill="#262626" stroke="#111" stroke-width="1.3"/>
<line x1="285.85" y1="1040.42" x2="285.85" y2="1038.53" stroke="#222" stroke-width="1.2"/>
<line x1="282.25" y1="1038.53" x2="289.45" y2="1038.53" stroke="#222" stroke-width="1.4"/>
<rect x="282.30" y="1040.42" width="7.10" height="3.98" fill="#262626" stroke="#111" stroke-width="1.3"/>
<line x1="305.40" y1="934.12" x2="305.40" y2="922.79" stroke="#222" stroke-width="1.2"/>
<line x1="301.80" y1="922.79" x2="309.00" y2="922.79" stroke="#222" stroke-width="1.4"/>
<rect x="301.40" y="934.12" width="8.00" height="110.28" fill="#cdd0d8" stroke="#111" stroke-width="1.3"/>
<line x1="314.80" y1="1018.82" x2="314.80" y2="1015.05" stroke="#222" stroke-width="1.2"/>
<line x1="311.20" y1="1015.05" x2="318.40" y2="1015.05" stroke="#222" stroke-width="1.4"/>
<rect x="310.60" y="1018.82" width="8.40" height="25.58" fill="#cdd0d8" stroke="#111" stroke-width="1.3"/>
<text transform="translate(216.55,1056.4) scale(1,1.12)" font-size="9.6" text-anchor="middle" fill="#222">8</text>
<text transform="translate(226.60,1056.4) scale(1,1.12)" font-size="9.6" text-anchor="middle" fill="#222">24</text>
<text transform="translate(245.40,1056.4) scale(1,1.12)" font-size="9.6" text-anchor="middle" fill="#222">8</text>
<text transform="translate(256.40,1056.4) scale(1,1.12)" font-size="9.6" text-anchor="middle" fill="#222">24</text>
<text transform="translate(275.70,1056.4) scale(1,1.12)" font-size="9.6" text-anchor="middle" fill="#222">8</text>
<text transform="translate(286.65,1056.4) scale(1,1.12)" font-size="9.6" text-anchor="middle" fill="#222">24</text>
<text transform="translate(305.40,1056.4) scale(1,1.12)" font-size="9.6" text-anchor="middle" fill="#222">4</text>
<text transform="translate(315.60,1056.4) scale(1,1.12)" font-size="9.6" text-anchor="middle" fill="#222">24</text>
<text x="268.0" y="1070.0" font-size="9.7" text-anchor="middle" fill="#222">hours after induction</text>
<text x="486.3" y="913.90" font-size="13.8" font-weight="bold" font-style="italic" text-anchor="end" fill="#111">Birc5</text>
<rect x="377.0" y="918.6" width="107.8" height="124.9" fill="none" stroke="#8e8e8e" stroke-width="1.3"/>
<text transform="translate(371.0,1047.00) scale(1,1.15)" font-size="9.6" text-anchor="end" fill="#222">0</text>
<text transform="translate(371.0,1031.39) scale(1,1.15)" font-size="9.6" text-anchor="end" fill="#222">10</text>
<text transform="translate(371.0,1015.77) scale(1,1.15)" font-size="9.6" text-anchor="end" fill="#222">20</text>
<text transform="translate(371.0,1000.16) scale(1,1.15)" font-size="9.6" text-anchor="end" fill="#222">30</text>
<text transform="translate(371.0,984.55) scale(1,1.15)" font-size="9.6" text-anchor="end" fill="#222">40</text>
<text transform="translate(371.0,968.94) scale(1,1.15)" font-size="9.6" text-anchor="end" fill="#222">50</text>
<text transform="translate(371.0,953.33) scale(1,1.15)" font-size="9.6" text-anchor="end" fill="#222">60</text>
<text transform="translate(371.0,937.71) scale(1,1.15)" font-size="9.6" text-anchor="end" fill="#222">70</text>
<text transform="translate(371.0,922.10) scale(1,1.15)" font-size="9.6" text-anchor="end" fill="#222">80</text>
<text transform="translate(351.6,980.7) rotate(-90)" x="0" y="3.3" font-size="9.5" text-anchor="middle" fill="#222">fold induction</text>
<rect x="378.40" y="1041.16" width="8.00" height="2.34" fill="#434343" stroke="#111" stroke-width="1.3"/>
<line x1="391.60" y1="1037.88" x2="391.60" y2="1036.32" stroke="#222" stroke-width="1.2"/>
<line x1="388.00" y1="1036.32" x2="395.20" y2="1036.32" stroke="#222" stroke-width="1.4"/>
<rect x="387.60" y="1037.88" width="8.00" height="5.62" fill="#434343" stroke="#111" stroke-width="1.3"/>
<rect x="407.20" y="1039.13" width="8.10" height="4.37" fill="#ffffff" stroke="#111" stroke-width="1.3"/>
<line x1="421.10" y1="1035.38" x2="421.10" y2="1028.51" stroke="#222" stroke-width="1.2"/>
<line x1="417.50" y1="1028.51" x2="424.70" y2="1028.51" stroke="#222" stroke-width="1.4"/>
<rect x="417.20" y="1035.38" width="7.80" height="8.12" fill="#ffffff" stroke="#111" stroke-width="1.3"/>
<line x1="441.40" y1="1041.63" x2="441.40" y2="1041.16" stroke="#222" stroke-width="1.2"/>
<line x1="437.80" y1="1041.16" x2="445.00" y2="1041.16" stroke="#222" stroke-width="1.4"/>
<rect x="438.00" y="1041.63" width="6.80" height="1.87" fill="#262626" stroke="#111" stroke-width="1.3"/>
<rect x="447.00" y="1042.56" width="7.10" height="0.94" fill="#262626" stroke="#111" stroke-width="1.3"/>
<rect x="465.00" y="1042.72" width="9.20" height="0.80" fill="#cdd0d8" stroke="#111" stroke-width="1.3"/>
<line x1="479.40" y1="964.97" x2="479.40" y2="943.11" stroke="#222" stroke-width="1.2"/>
<line x1="475.80" y1="943.11" x2="483.00" y2="943.11" stroke="#222" stroke-width="1.4"/>
<rect x="475.40" y="964.97" width="8.00" height="78.53" fill="#cdd0d8" stroke="#111" stroke-width="1.3"/>
<text transform="translate(382.40,1056.2) scale(1,1.12)" font-size="9.6" text-anchor="middle" fill="#222">8</text>
<text transform="translate(392.40,1056.2) scale(1,1.12)" font-size="9.6" text-anchor="middle" fill="#222">24</text>
<text transform="translate(411.25,1056.2) scale(1,1.12)" font-size="9.6" text-anchor="middle" fill="#222">8</text>
<text transform="translate(421.90,1056.2) scale(1,1.12)" font-size="9.6" text-anchor="middle" fill="#222">24</text>
<text transform="translate(441.40,1056.2) scale(1,1.12)" font-size="9.6" text-anchor="middle" fill="#222">8</text>
<text transform="translate(451.35,1056.2) scale(1,1.12)" font-size="9.6" text-anchor="middle" fill="#222">24</text>
<text transform="translate(469.60,1056.2) scale(1,1.12)" font-size="9.6" text-anchor="middle" fill="#222">4</text>
<text transform="translate(480.20,1056.2) scale(1,1.12)" font-size="9.6" text-anchor="middle" fill="#222">24</text>
<text x="432.6" y="1070.3" font-size="9.7" text-anchor="middle" fill="#222">hours after induction</text>
<rect x="94.39999999999999" y="1106.8" width="6.3" height="6.3" fill="#434343" stroke="#111" stroke-width="1.2"/>
<text x="110.0" y="1114.8" font-size="12.8" letter-spacing="0.15" fill="#222">Notch1-IC</text>
<rect x="194.6" y="1106.8" width="5.8" height="5.8" fill="#ffffff" stroke="#111" stroke-width="1.2"/>
<text x="210.4" y="1114.8" font-size="12.8" letter-spacing="0.38" fill="#222">Notch2-IC</text>
<rect x="295.40000000000003" y="1106.3999999999999" width="5.0" height="5.0" fill="#262626" stroke="#111" stroke-width="1.2"/>
<text x="312.0" y="1114.8" font-size="12.8" letter-spacing="1.0" fill="#222">CAT</text>
<rect x="362.5" y="1106.3999999999999" width="6.0" height="6.0" fill="#cdd0d8" stroke="#111" stroke-width="1.2"/>
<text x="374.6" y="1114.8" font-size="12.8" letter-spacing="1.0" fill="#222">EBNA2</text>
</svg>
</body></html>
